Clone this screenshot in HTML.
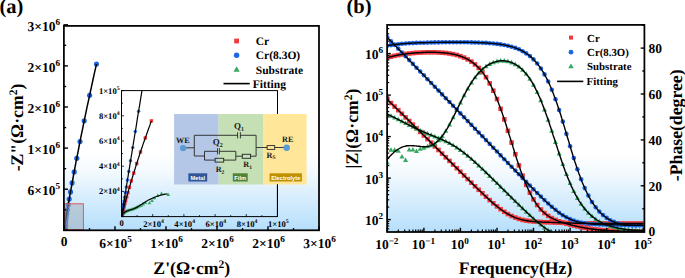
<!DOCTYPE html><html><head><meta charset="utf-8"><style>html,body{margin:0;padding:0;background:#fff;overflow:hidden}svg{display:block}</style></head><body><svg width="685" height="278" viewBox="0 0 685 278" text-rendering="geometricPrecision" font-family="Liberation Serif" font-weight="bold"><defs><linearGradient id="bg" x1="0" y1="0" x2="0" y2="1"><stop offset="0" stop-color="#ffffff"/><stop offset="0.62" stop-color="#ffffff"/><stop offset="0.72" stop-color="#f2f9fe"/><stop offset="0.8" stop-color="#e0f1fd"/><stop offset="0.96" stop-color="#bee3fc"/><stop offset="1" stop-color="#b5defc"/></linearGradient><clipPath id="ca"><rect x="64" y="25.5" width="255" height="204.5"/></clipPath><clipPath id="ci"><rect x="121.5" y="90.6" width="156" height="126"/></clipPath><clipPath id="cb"><rect x="387" y="24.8" width="257.5" height="207"/></clipPath></defs><text x="-0.6" y="13.4" font-size="20.5" text-anchor="start" >(a)</text><rect x="64" y="25.5" width="255" height="204.5" fill="url(#bg)"/><g clip-path="url(#ca)"><polygon points="66.5,225.7 63.7,230.9 69.4,230.9" fill="#35a862"/><polygon points="66.2,225.7 63.3,230.8 69,230.8" fill="#35a862"/><polygon points="66,225.8 63.1,230.9 68.8,230.9" fill="#35a862"/><polygon points="65.8,225.9 62.9,231 68.7,231" fill="#35a862"/><polygon points="65.7,226.1 62.8,231.2 68.5,231.2" fill="#35a862"/><polygon points="65.5,226.2 62.7,231.3 68.4,231.3" fill="#35a862"/><polygon points="65.3,226.2 62.4,231.3 68.2,231.3" fill="#35a862"/><polygon points="65.2,226.2 62.3,231.4 68,231.4" fill="#35a862"/><polygon points="65.1,226.3 62.2,231.5 67.9,231.5" fill="#35a862"/><polygon points="65,226.3 62.1,231.5 67.8,231.5" fill="#35a862"/><polygon points="64.9,226.4 62,231.5 67.7,231.5" fill="#35a862"/><polygon points="64.8,226.4 61.9,231.6 67.7,231.6" fill="#35a862"/><polygon points="64.7,226.5 61.9,231.6 67.6,231.6" fill="#35a862"/><polygon points="64.7,226.5 61.8,231.6 67.5,231.6" fill="#35a862"/><polygon points="64.6,226.5 61.7,231.7 67.5,231.7" fill="#35a862"/><polygon points="64.5,226.5 61.7,231.7 67.4,231.7" fill="#35a862"/><polygon points="64.5,226.5 61.6,231.7 67.3,231.7" fill="#35a862"/><polygon points="64.4,226.6 61.5,231.7 67.3,231.7" fill="#35a862"/><polygon points="64.3,226.6 61.5,231.7 67.2,231.7" fill="#35a862"/><polygon points="64.3,226.6 61.4,231.8 67.1,231.8" fill="#35a862"/><polygon points="64.2,226.6 61.4,231.8 67.1,231.8" fill="#35a862"/><polygon points="64.2,226.7 61.3,231.8 67,231.8" fill="#35a862"/><polygon points="64.1,226.7 61.3,231.9 67,231.9" fill="#35a862"/><polygon points="64.1,226.7 61.2,231.9 67,231.9" fill="#35a862"/><polygon points="64.1,226.8 61.2,231.9 66.9,231.9" fill="#35a862"/><polygon points="64.1,226.8 61.2,231.9 66.9,231.9" fill="#35a862"/><polygon points="64,226.8 61.2,232 66.9,232" fill="#35a862"/><polygon points="64,226.8 61.2,232 66.9,232" fill="#35a862"/><polygon points="64,226.8 61.2,232 66.9,232" fill="#35a862"/><polygon points="64,226.9 61.2,232 66.9,232" fill="#35a862"/><polygon points="64,226.9 61.2,232 66.9,232" fill="#35a862"/><polygon points="64,226.9 61.2,232 66.9,232" fill="#35a862"/><polygon points="64,226.9 61.2,232 66.9,232" fill="#35a862"/><polygon points="64,226.9 61.1,232 66.9,232" fill="#35a862"/><polygon points="64,226.9 61.1,232 66.9,232" fill="#35a862"/><polygon points="64,226.9 61.1,232 66.9,232" fill="#35a862"/><polygon points="64,226.9 61.1,232 66.9,232" fill="#35a862"/><polygon points="64,226.9 61.1,232 66.9,232" fill="#35a862"/><polygon points="64,226.9 61.1,232 66.9,232" fill="#35a862"/><polygon points="64,226.9 61.1,232.1 66.9,232.1" fill="#35a862"/><polygon points="64,226.9 61.1,232.1 66.9,232.1" fill="#35a862"/><polygon points="64,226.9 61.1,232.1 66.9,232.1" fill="#35a862"/><polygon points="64,226.9 61.1,232.1 66.9,232.1" fill="#35a862"/><polygon points="64,226.9 61.1,232.1 66.9,232.1" fill="#35a862"/><polygon points="64,226.9 61.1,232.1 66.9,232.1" fill="#35a862"/><polygon points="64,226.9 61.1,232.1 66.9,232.1" fill="#35a862"/><polygon points="64,226.9 61.1,232.1 66.9,232.1" fill="#35a862"/><polygon points="64,226.9 61.1,232.1 66.9,232.1" fill="#35a862"/><polygon points="64,226.9 61.1,232.1 66.9,232.1" fill="#35a862"/><polygon points="64,226.9 61.1,232.1 66.9,232.1" fill="#35a862"/><polygon points="64,226.9 61.1,232.1 66.9,232.1" fill="#35a862"/><polygon points="64,226.9 61.1,232.1 66.9,232.1" fill="#35a862"/><polygon points="64,226.9 61.1,232.1 66.9,232.1" fill="#35a862"/><polygon points="64,226.9 61.1,232.1 66.9,232.1" fill="#35a862"/><polygon points="64,226.9 61.1,232.1 66.9,232.1" fill="#35a862"/><polygon points="64,226.9 61.1,232.1 66.9,232.1" fill="#35a862"/><polygon points="64,226.9 61.1,232.1 66.9,232.1" fill="#35a862"/><polygon points="64,226.9 61.1,232.1 66.9,232.1" fill="#35a862"/><polygon points="64,226.9 61.1,232.1 66.9,232.1" fill="#35a862"/><polygon points="64,226.9 61.1,232.1 66.9,232.1" fill="#35a862"/><polygon points="64,226.9 61.1,232.1 66.9,232.1" fill="#35a862"/><polygon points="64,226.9 61.1,232.1 66.9,232.1" fill="#35a862"/><polygon points="64,226.9 61.1,232.1 66.9,232.1" fill="#35a862"/><polygon points="64,226.9 61.1,232.1 66.9,232.1" fill="#35a862"/><polygon points="64,226.9 61.1,232.1 66.9,232.1" fill="#35a862"/><polygon points="64,226.9 61.1,232.1 66.9,232.1" fill="#35a862"/><polygon points="64,226.9 61.1,232.1 66.9,232.1" fill="#35a862"/><polygon points="64,226.9 61.1,232.1 66.9,232.1" fill="#35a862"/><polygon points="64,226.9 61.1,232.1 66.9,232.1" fill="#35a862"/><polygon points="64,226.9 61.1,232.1 66.9,232.1" fill="#35a862"/><polygon points="64,226.9 61.1,232.1 66.9,232.1" fill="#35a862"/><rect x="63" y="222.2" width="5.2" height="5.2" fill="#ef3b3f"/><rect x="62.7" y="223.1" width="5.2" height="5.2" fill="#ef3b3f"/><rect x="62.4" y="223.9" width="5.2" height="5.2" fill="#ef3b3f"/><rect x="62.2" y="224.5" width="5.2" height="5.2" fill="#ef3b3f"/><rect x="62.1" y="225" width="5.2" height="5.2" fill="#ef3b3f"/><rect x="61.9" y="225.5" width="5.2" height="5.2" fill="#ef3b3f"/><rect x="61.8" y="225.8" width="5.2" height="5.2" fill="#ef3b3f"/><rect x="61.7" y="226.1" width="5.2" height="5.2" fill="#ef3b3f"/><rect x="61.7" y="226.3" width="5.2" height="5.2" fill="#ef3b3f"/><rect x="61.6" y="226.5" width="5.2" height="5.2" fill="#ef3b3f"/><rect x="61.6" y="226.7" width="5.2" height="5.2" fill="#ef3b3f"/><rect x="61.6" y="226.8" width="5.2" height="5.2" fill="#ef3b3f"/><rect x="61.5" y="226.9" width="5.2" height="5.2" fill="#ef3b3f"/><rect x="61.5" y="227" width="5.2" height="5.2" fill="#ef3b3f"/><rect x="61.5" y="227.1" width="5.2" height="5.2" fill="#ef3b3f"/><rect x="61.5" y="227.1" width="5.2" height="5.2" fill="#ef3b3f"/><rect x="61.5" y="227.2" width="5.2" height="5.2" fill="#ef3b3f"/><rect x="61.4" y="227.2" width="5.2" height="5.2" fill="#ef3b3f"/><rect x="61.4" y="227.3" width="5.2" height="5.2" fill="#ef3b3f"/><rect x="61.4" y="227.3" width="5.2" height="5.2" fill="#ef3b3f"/><rect x="61.4" y="227.3" width="5.2" height="5.2" fill="#ef3b3f"/><rect x="61.4" y="227.3" width="5.2" height="5.2" fill="#ef3b3f"/><rect x="61.4" y="227.3" width="5.2" height="5.2" fill="#ef3b3f"/><rect x="61.4" y="227.3" width="5.2" height="5.2" fill="#ef3b3f"/><rect x="61.4" y="227.4" width="5.2" height="5.2" fill="#ef3b3f"/><rect x="61.4" y="227.4" width="5.2" height="5.2" fill="#ef3b3f"/><rect x="61.4" y="227.4" width="5.2" height="5.2" fill="#ef3b3f"/><rect x="61.4" y="227.4" width="5.2" height="5.2" fill="#ef3b3f"/><rect x="61.4" y="227.4" width="5.2" height="5.2" fill="#ef3b3f"/><rect x="61.4" y="227.4" width="5.2" height="5.2" fill="#ef3b3f"/><rect x="61.4" y="227.4" width="5.2" height="5.2" fill="#ef3b3f"/><rect x="61.4" y="227.4" width="5.2" height="5.2" fill="#ef3b3f"/><rect x="61.4" y="227.4" width="5.2" height="5.2" fill="#ef3b3f"/><rect x="61.4" y="227.4" width="5.2" height="5.2" fill="#ef3b3f"/><rect x="61.4" y="227.4" width="5.2" height="5.2" fill="#ef3b3f"/><rect x="61.4" y="227.4" width="5.2" height="5.2" fill="#ef3b3f"/><rect x="61.4" y="227.4" width="5.2" height="5.2" fill="#ef3b3f"/><rect x="61.4" y="227.4" width="5.2" height="5.2" fill="#ef3b3f"/><rect x="61.4" y="227.4" width="5.2" height="5.2" fill="#ef3b3f"/><rect x="61.4" y="227.4" width="5.2" height="5.2" fill="#ef3b3f"/><rect x="61.4" y="227.4" width="5.2" height="5.2" fill="#ef3b3f"/><rect x="61.4" y="227.4" width="5.2" height="5.2" fill="#ef3b3f"/><rect x="61.4" y="227.4" width="5.2" height="5.2" fill="#ef3b3f"/><rect x="61.4" y="227.4" width="5.2" height="5.2" fill="#ef3b3f"/><rect x="61.4" y="227.4" width="5.2" height="5.2" fill="#ef3b3f"/><rect x="61.4" y="227.4" width="5.2" height="5.2" fill="#ef3b3f"/><rect x="61.4" y="227.4" width="5.2" height="5.2" fill="#ef3b3f"/><rect x="61.4" y="227.4" width="5.2" height="5.2" fill="#ef3b3f"/><rect x="61.4" y="227.4" width="5.2" height="5.2" fill="#ef3b3f"/><rect x="61.4" y="227.4" width="5.2" height="5.2" fill="#ef3b3f"/><rect x="61.4" y="227.4" width="5.2" height="5.2" fill="#ef3b3f"/><rect x="61.4" y="227.4" width="5.2" height="5.2" fill="#ef3b3f"/><rect x="61.4" y="227.4" width="5.2" height="5.2" fill="#ef3b3f"/><rect x="61.4" y="227.4" width="5.2" height="5.2" fill="#ef3b3f"/><rect x="61.4" y="227.4" width="5.2" height="5.2" fill="#ef3b3f"/><rect x="61.4" y="227.4" width="5.2" height="5.2" fill="#ef3b3f"/><rect x="61.4" y="227.4" width="5.2" height="5.2" fill="#ef3b3f"/><rect x="61.4" y="227.4" width="5.2" height="5.2" fill="#ef3b3f"/><rect x="61.4" y="227.4" width="5.2" height="5.2" fill="#ef3b3f"/><rect x="61.4" y="227.4" width="5.2" height="5.2" fill="#ef3b3f"/><rect x="61.4" y="227.4" width="5.2" height="5.2" fill="#ef3b3f"/><rect x="61.4" y="227.4" width="5.2" height="5.2" fill="#ef3b3f"/><rect x="61.4" y="227.4" width="5.2" height="5.2" fill="#ef3b3f"/><rect x="61.4" y="227.4" width="5.2" height="5.2" fill="#ef3b3f"/><rect x="61.4" y="227.4" width="5.2" height="5.2" fill="#ef3b3f"/><rect x="61.4" y="227.4" width="5.2" height="5.2" fill="#ef3b3f"/><rect x="61.4" y="227.4" width="5.2" height="5.2" fill="#ef3b3f"/><rect x="61.4" y="227.4" width="5.2" height="5.2" fill="#ef3b3f"/><rect x="61.4" y="227.4" width="5.2" height="5.2" fill="#ef3b3f"/><rect x="61.4" y="227.4" width="5.2" height="5.2" fill="#ef3b3f"/><rect x="61.4" y="227.4" width="5.2" height="5.2" fill="#ef3b3f"/><circle cx="96.5" cy="64" r="2.6" fill="#1f66e5"/><circle cx="89.6" cy="95.3" r="2.6" fill="#1f66e5"/><circle cx="84.2" cy="120.8" r="2.6" fill="#1f66e5"/><circle cx="80" cy="141.5" r="2.6" fill="#1f66e5"/><circle cx="76.8" cy="158.3" r="2.6" fill="#1f66e5"/><circle cx="74.2" cy="171.9" r="2.6" fill="#1f66e5"/><circle cx="72.1" cy="182.9" r="2.6" fill="#1f66e5"/><circle cx="70.5" cy="191.9" r="2.6" fill="#1f66e5"/><circle cx="69.2" cy="199.1" r="2.6" fill="#1f66e5"/><circle cx="68.2" cy="205" r="2.6" fill="#1f66e5"/><circle cx="67.4" cy="209.7" r="2.6" fill="#1f66e5"/><circle cx="66.7" cy="213.6" r="2.6" fill="#1f66e5"/><circle cx="66.2" cy="216.7" r="2.6" fill="#1f66e5"/><circle cx="65.8" cy="219.2" r="2.6" fill="#1f66e5"/><circle cx="65.4" cy="221.3" r="2.6" fill="#1f66e5"/><circle cx="65.2" cy="222.9" r="2.6" fill="#1f66e5"/><circle cx="64.9" cy="224.3" r="2.6" fill="#1f66e5"/><circle cx="64.8" cy="225.4" r="2.6" fill="#1f66e5"/><circle cx="64.6" cy="226.3" r="2.6" fill="#1f66e5"/><circle cx="64.5" cy="227" r="2.6" fill="#1f66e5"/><circle cx="64.4" cy="227.5" r="2.6" fill="#1f66e5"/><circle cx="64.3" cy="228" r="2.6" fill="#1f66e5"/><circle cx="64.3" cy="228.4" r="2.6" fill="#1f66e5"/><circle cx="64.2" cy="228.7" r="2.6" fill="#1f66e5"/><circle cx="64.2" cy="228.9" r="2.6" fill="#1f66e5"/><circle cx="64.1" cy="229.1" r="2.6" fill="#1f66e5"/><circle cx="64.1" cy="229.3" r="2.6" fill="#1f66e5"/><circle cx="64.1" cy="229.4" r="2.6" fill="#1f66e5"/><circle cx="64.1" cy="229.5" r="2.6" fill="#1f66e5"/><circle cx="64.1" cy="229.6" r="2.6" fill="#1f66e5"/><circle cx="64.1" cy="229.7" r="2.6" fill="#1f66e5"/><circle cx="64" cy="229.8" r="2.6" fill="#1f66e5"/><circle cx="64" cy="229.8" r="2.6" fill="#1f66e5"/><circle cx="64" cy="229.8" r="2.6" fill="#1f66e5"/><circle cx="64" cy="229.9" r="2.6" fill="#1f66e5"/><circle cx="64" cy="229.9" r="2.6" fill="#1f66e5"/><circle cx="64" cy="229.9" r="2.6" fill="#1f66e5"/><circle cx="64" cy="229.9" r="2.6" fill="#1f66e5"/><circle cx="64" cy="229.9" r="2.6" fill="#1f66e5"/><circle cx="64" cy="230" r="2.6" fill="#1f66e5"/><circle cx="64" cy="230" r="2.6" fill="#1f66e5"/><circle cx="64" cy="230" r="2.6" fill="#1f66e5"/><circle cx="64" cy="230" r="2.6" fill="#1f66e5"/><circle cx="64" cy="230" r="2.6" fill="#1f66e5"/><circle cx="64" cy="230" r="2.6" fill="#1f66e5"/><circle cx="64" cy="230" r="2.6" fill="#1f66e5"/><circle cx="64" cy="230" r="2.6" fill="#1f66e5"/><circle cx="64" cy="230" r="2.6" fill="#1f66e5"/><circle cx="64" cy="230" r="2.6" fill="#1f66e5"/><circle cx="64" cy="230" r="2.6" fill="#1f66e5"/><circle cx="64" cy="230" r="2.6" fill="#1f66e5"/><circle cx="64" cy="230" r="2.6" fill="#1f66e5"/><circle cx="64" cy="230" r="2.6" fill="#1f66e5"/><circle cx="64" cy="230" r="2.6" fill="#1f66e5"/><circle cx="64" cy="230" r="2.6" fill="#1f66e5"/><circle cx="64" cy="230" r="2.6" fill="#1f66e5"/><circle cx="64" cy="230" r="2.6" fill="#1f66e5"/><circle cx="64" cy="230" r="2.6" fill="#1f66e5"/><circle cx="64" cy="230" r="2.6" fill="#1f66e5"/><circle cx="64" cy="230" r="2.6" fill="#1f66e5"/><circle cx="64" cy="230" r="2.6" fill="#1f66e5"/><circle cx="64" cy="230" r="2.6" fill="#1f66e5"/><circle cx="64" cy="230" r="2.6" fill="#1f66e5"/><circle cx="64" cy="230" r="2.6" fill="#1f66e5"/><circle cx="64" cy="230" r="2.6" fill="#1f66e5"/><circle cx="64" cy="230" r="2.6" fill="#1f66e5"/><circle cx="64" cy="230" r="2.6" fill="#1f66e5"/><circle cx="64" cy="230" r="2.6" fill="#1f66e5"/><circle cx="64" cy="230" r="2.6" fill="#1f66e5"/><circle cx="64" cy="230" r="2.6" fill="#1f66e5"/><circle cx="64" cy="230" r="2.6" fill="#1f66e5"/><polyline points="65.6,224.8 65.5,225 65.5,225.3 65.4,225.5 65.3,225.7 65.2,225.9 65.2,226.1 65.1,226.2 65.1,226.4 65,226.6 65,226.7 64.9,226.9 64.9,227 64.8,227.1 64.8,227.3 64.7,227.4 64.7,227.5 64.7,227.6 64.6,227.7 64.6,227.8 64.6,227.9 64.5,228 64.5,228.1 64.5,228.2 64.5,228.3 64.4,228.4 64.4,228.4 64.4,228.5 64.4,228.6 64.4,228.6 64.3,228.7 64.3,228.8 64.3,228.8 64.3,228.9 64.3,228.9 64.3,229 64.3,229 64.2,229.1 64.2,229.1 64.2,229.2 64.2,229.2 64.2,229.2 64.2,229.3 64.2,229.3 64.2,229.3 64.2,229.4 64.2,229.4 64.2,229.4 64.1,229.4 64.1,229.5 64.1,229.5 64.1,229.5 64.1,229.5 64.1,229.6 64.1,229.6 64.1,229.6 64.1,229.6 64.1,229.6 64.1,229.7 64.1,229.7 64.1,229.7 64.1,229.7 64.1,229.7 64.1,229.7 64.1,229.7 64.1,229.8 64.1,229.8 64.1,229.8 64.1,229.8 64.1,229.8 64.1,229.8 64.1,229.8 64,229.8 64,229.8 64,229.8 64,229.8 64,229.9 64,229.9 64,229.9 64,229.9 64,229.9 64,229.9 64,229.9 64,229.9 64,229.9 64,229.9 64,229.9 64,229.9 64,229.9 64,229.9 64,229.9 64,229.9 64,229.9 64,229.9 64,229.9 64,229.9 64,229.9 64,229.9 64,229.9 64,230 64,230 64,230 64,230 64,230 64,230 64,230 64,230 64,230 64,230 64,230 64,230 64,230 64,230 64,230 64,230 64,230 64,230 64,230 64,230 64,230 64,230 64,230 64,230 64,230 64,230 64,230 64,230 64,230 64,230 64,230 64,230 64,230 64,230 64,230 64,230 64,230 64,230 64,230 64,230 64,230 64,230 64,230 64,230 64,230 64,230 64,230 64,230 64,230 64,230 64,230 64,230 64,230 64,230 64,230 64,230 64,230 64,230 64,230 64,230 64,230 64,230 64,230 64,230 64,230 64,230 64,230 64,230 64,230 64,230 64,230 64,230 64,230 64,230 64,230 64,230 64,230 64,230 64,230 64,230 64,230 64,230 64,230 64,230 64,230 64,230 64,230 64,230 64,230 64,230 64,230 64,230 64,230 64,230 64,230 64,230 64,230 64,230 64,230 64,230 64,230 64,230 64,230 64,230 64,230 64,230 64,230 64,230 64,230 64,230 64,230 64,230 64,230 64,230 64,230 64,230 64,230 64,230 64,230 64,230 64,230 64,230 64,230 64,230 64,230 64,230 64,230 64,230 64,230 64,230 64,230 64,230 64,230 64,230 64,230 64,230 64,230 64,230 64,230 64,230 64,230 64,230 64,230 64,230 64,230 64,230 64,230 64,230 64,230 64,230 64,230 64,230 64,230 64,230 64,230 64,230 64,230 64,230 64,230 64,230 64,230 64,230 64,230 64,230 64,230 64,230 64,230 64,230 64,230 64,230 64,230 64,230 64,230 64,230 64,230 64,230 64,230 64,230 64,230 64,230 64,230 64,230 64,230 64,230 64,230 64,230 64,230 64,230 64,230 64,230 64,230 64,230 64,230 64,230 64,230 64,230 64,230 64,230 64,230 64,230 64,230" fill="none" stroke="#000" stroke-width="1.5"/><polyline points="66.5,228.8 66.4,228.8 66.4,228.8 66.3,228.8 66.3,228.8 66.2,228.8 66.1,228.8 66.1,228.9 66,228.9 66,228.9 65.9,228.9 65.9,228.9 65.8,228.9 65.8,229 65.7,229 65.7,229 65.6,229 65.6,229 65.5,229.1 65.5,229.1 65.5,229.1 65.4,229.1 65.4,229.1 65.4,229.2 65.3,229.2 65.3,229.2 65.3,229.2 65.2,229.2 65.2,229.3 65.2,229.3 65.1,229.3 65.1,229.3 65.1,229.3 65.1,229.3 65.1,229.4 65,229.4 65,229.4 65,229.4 65,229.4 64.9,229.4 64.9,229.4 64.9,229.5 64.9,229.5 64.9,229.5 64.9,229.5 64.8,229.5 64.8,229.5 64.8,229.5 64.8,229.5 64.8,229.5 64.8,229.5 64.7,229.5 64.7,229.6 64.7,229.6 64.7,229.6 64.7,229.6 64.7,229.6 64.6,229.6 64.6,229.6 64.6,229.6 64.6,229.6 64.6,229.6 64.6,229.6 64.6,229.6 64.5,229.6 64.5,229.6 64.5,229.6 64.5,229.6 64.5,229.6 64.5,229.6 64.4,229.6 64.4,229.6 64.4,229.7 64.4,229.7 64.4,229.7 64.4,229.7 64.4,229.7 64.3,229.7 64.3,229.7 64.3,229.7 64.3,229.7 64.3,229.7 64.3,229.7 64.3,229.7 64.2,229.7 64.2,229.7 64.2,229.7 64.2,229.7 64.2,229.7 64.2,229.8 64.2,229.8 64.2,229.8 64.2,229.8 64.1,229.8 64.1,229.8 64.1,229.8 64.1,229.8 64.1,229.8 64.1,229.8 64.1,229.8 64.1,229.8 64.1,229.8 64.1,229.8 64.1,229.9 64.1,229.9 64.1,229.9 64.1,229.9 64.1,229.9 64.1,229.9 64.1,229.9 64,229.9 64,229.9 64,229.9 64,229.9 64,229.9 64,229.9 64,229.9 64,229.9 64,229.9 64,229.9 64,229.9 64,229.9 64,229.9 64,229.9 64,229.9 64,229.9 64,229.9 64,229.9 64,230 64,230 64,230 64,230 64,230 64,230 64,230 64,230 64,230 64,230 64,230 64,230 64,230 64,230 64,230 64,230 64,230 64,230 64,230 64,230 64,230 64,230 64,230 64,230 64,230 64,230 64,230 64,230 64,230 64,230 64,230 64,230 64,230 64,230 64,230 64,230 64,230 64,230 64,230 64,230 64,230 64,230 64,230 64,230 64,230 64,230 64,230 64,230 64,230 64,230 64,230 64,230 64,230 64,230 64,230 64,230 64,230 64,230 64,230 64,230 64,230 64,230 64,230 64,230 64,230 64,230 64,230 64,230 64,230 64,230 64,230 64,230 64,230 64,230 64,230 64,230 64,230 64,230 64,230 64,230 64,230 64,230 64,230 64,230 64,230 64,230 64,230 64,230 64,230 64,230 64,230 64,230 64,230 64,230 64,230 64,230 64,230 64,230 64,230 64,230 64,230 64,230 64,230 64,230 64,230 64,230 64,230 64,230 64,230 64,230 64,230 64,230 64,230 64,230 64,230 64,230 64,230 64,230 64,230 64,230 64,230 64,230 64,230 64,230 64,230 64,230 64,230 64,230 64,230 64,230 64,230 64,230 64,230 64,230 64,230 64,230 64,230 64,230 64,230 64,230 64,230 64,230 64,230 64,230 64,230 64,230 64,230 64,230 64,230 64,230 64,230 64,230 64,230 64,230 64,230 64,230 64,230 64,230 64,230 64,230 64,230 64,230 64,230 64,230 64,230 64,230 64,230 64,230 64,230 64,230 64,230 64,230" fill="none" stroke="#000" stroke-width="1.5"/><polyline points="96.5,64 94.7,71.9 93,79.5 91.5,86.7 90,93.5 88.6,100.1 87.2,106.3 86,112.2 84.8,117.9 83.7,123.2 82.7,128.4 81.7,133.2 80.7,137.9 79.9,142.3 79,146.5 78.3,150.5 77.5,154.3 76.8,158 76.1,161.4 75.5,164.7 74.9,167.9 74.4,170.8 73.8,173.7 73.3,176.4 72.9,179 72.4,181.4 72,183.8 71.6,186 71.2,188.1 70.8,190.1 70.5,192 70.2,193.9 69.8,195.6 69.6,197.3 69.3,198.8 69,200.3 68.8,201.8 68.5,203.1 68.3,204.4 68.1,205.7 67.9,206.8 67.7,207.9 67.5,209 67.3,210 67.2,211 67,211.9 66.9,212.8 66.7,213.6 66.6,214.4 66.5,215.1 66.3,215.9 66.2,216.5 66.1,217.2 66,217.8 65.9,218.4 65.8,219 65.7,219.5 65.6,220 65.6,220.5 65.5,220.9 65.4,221.4 65.3,221.8 65.3,222.2 65.2,222.6 65.2,222.9 65.1,223.3 65,223.6 65,223.9 64.9,224.2 64.9,224.5 64.9,224.7 64.8,225 64.8,225.2 64.7,225.5 64.7,225.7 64.7,225.9 64.6,226.1 64.6,226.3 64.6,226.5 64.5,226.6 64.5,226.8 64.5,226.9 64.5,227.1 64.5,227.2 64.4,227.4 64.4,227.5 64.4,227.6 64.4,227.7 64.4,227.8 64.3,227.9 64.3,228 64.3,228.1 64.3,228.2 64.3,228.3 64.3,228.4 64.2,228.5 64.2,228.5 64.2,228.6 64.2,228.7 64.2,228.7 64.2,228.8 64.2,228.9 64.2,228.9 64.2,229 64.2,229 64.2,229.1 64.1,229.1 64.1,229.2 64.1,229.2 64.1,229.2 64.1,229.3 64.1,229.3 64.1,229.3 64.1,229.4 64.1,229.4 64.1,229.4 64.1,229.5 64.1,229.5 64.1,229.5 64.1,229.5 64.1,229.6 64.1,229.6 64.1,229.6 64.1,229.6 64.1,229.6 64.1,229.7 64.1,229.7 64.1,229.7 64.1,229.7 64.1,229.7 64,229.7 64,229.7 64,229.8 64,229.8 64,229.8 64,229.8 64,229.8 64,229.8 64,229.8 64,229.8 64,229.8 64,229.8 64,229.9 64,229.9 64,229.9 64,229.9 64,229.9 64,229.9 64,229.9 64,229.9 64,229.9 64,229.9 64,229.9 64,229.9 64,229.9 64,229.9 64,229.9 64,229.9 64,229.9 64,229.9 64,229.9 64,229.9 64,229.9 64,229.9 64,230 64,230 64,230 64,230 64,230 64,230 64,230 64,230 64,230 64,230 64,230 64,230 64,230 64,230 64,230 64,230 64,230 64,230 64,230 64,230 64,230 64,230 64,230 64,230 64,230 64,230 64,230 64,230 64,230 64,230 64,230 64,230 64,230 64,230 64,230 64,230 64,230 64,230 64,230 64,230 64,230 64,230 64,230 64,230 64,230 64,230 64,230 64,230 64,230 64,230 64,230 64,230 64,230 64,230 64,230 64,230 64,230 64,230 64,230 64,230 64,230 64,230 64,230 64,230 64,230 64,230 64,230 64,230 64,230 64,230 64,230 64,230 64,230 64,230 64,230 64,230 64,230 64,230 64,230 64,230 64,230 64,230 64,230 64,230 64,230 64,230 64,230 64,230 64,230 64,230 64,230 64,230 64,230 64,230 64,230 64,230 64,230 64,230 64,230 64,230 64,230 64,230 64,230 64,230 64,230 64,230 64,230 64,230 64,230 64,230 64,230 64,230 64,230 64,230 64,230 64,230 64,230 64,230 64,230 64,230 64,230 64,230 64,230 64,230 64,230 64,230 64,230 64,230 64,230 64,230 64,230 64,230 64,230 64,230 64,230 64,230" fill="none" stroke="#000" stroke-width="1.5"/><rect x="64.7" y="203.8" width="18.7" height="25.8" fill="#a4abb3" fill-opacity="0.5" stroke="#e0585e" stroke-width="1"/></g><g clip-path="url(#ci)"><polygon points="168.3,192.7 166.4,196.1 170.1,196.1" fill="#35a862"/><polygon points="161.5,191.4 159.7,194.8 163.4,194.8" fill="#35a862"/><polygon points="157.8,193.6 155.9,197 159.7,197" fill="#35a862"/><polygon points="154.4,195.8 152.6,199.2 156.3,199.2" fill="#35a862"/><polygon points="152,198.7 150.2,202.1 153.9,202.1" fill="#35a862"/><polygon points="149.5,200.9 147.6,204.3 151.3,204.3" fill="#35a862"/><polygon points="145.4,200.7 143.5,204 147.3,204" fill="#35a862"/><polygon points="143.1,202 141.2,205.4 145,205.4" fill="#35a862"/><polygon points="141.2,203.4 139.4,206.7 143.1,206.7" fill="#35a862"/><polygon points="139.3,204.1 137.4,207.5 141.1,207.5" fill="#35a862"/><polygon points="137.7,204.9 135.8,208.3 139.5,208.3" fill="#35a862"/><polygon points="136.2,205.6 134.3,208.9 138.1,208.9" fill="#35a862"/><polygon points="135,206.2 133.1,209.6 136.8,209.6" fill="#35a862"/><polygon points="133.8,206.7 131.9,210.1 135.6,210.1" fill="#35a862"/><polygon points="132.6,207.2 130.7,210.5 134.4,210.5" fill="#35a862"/><polygon points="131.4,207.5 129.5,210.9 133.2,210.9" fill="#35a862"/><polygon points="130.1,207.9 128.3,211.2 132,211.2" fill="#35a862"/><polygon points="128.9,208.2 127,211.6 130.8,211.6" fill="#35a862"/><polygon points="127.7,208.6 125.9,212 129.6,212" fill="#35a862"/><polygon points="126.6,209.1 124.7,212.5 128.5,212.5" fill="#35a862"/><polygon points="125.6,209.6 123.7,213 127.5,213" fill="#35a862"/><polygon points="124.7,210.2 122.8,213.6 126.6,213.6" fill="#35a862"/><polygon points="124,210.7 122.1,214.1 125.9,214.1" fill="#35a862"/><polygon points="123.4,211.3 121.5,214.6 125.3,214.6" fill="#35a862"/><polygon points="123,211.8 121.1,215.1 124.8,215.1" fill="#35a862"/><polygon points="122.6,212.2 120.7,215.6 124.5,215.6" fill="#35a862"/><polygon points="122.4,212.6 120.5,216 124.2,216" fill="#35a862"/><polygon points="122.2,212.9 120.3,216.3 124,216.3" fill="#35a862"/><polygon points="122,213.2 120.1,216.6 123.9,216.6" fill="#35a862"/><polygon points="121.9,213.5 120,216.8 123.8,216.8" fill="#35a862"/><polygon points="121.8,213.7 119.9,217 123.7,217" fill="#35a862"/><polygon points="121.8,213.8 119.9,217.2 123.6,217.2" fill="#35a862"/><polygon points="121.7,214 119.8,217.3 123.6,217.3" fill="#35a862"/><polygon points="121.7,214.1 119.8,217.4 123.5,217.4" fill="#35a862"/><polygon points="121.6,214.2 119.8,217.5 123.5,217.5" fill="#35a862"/><polygon points="121.6,214.2 119.8,217.6 123.5,217.6" fill="#35a862"/><polygon points="121.6,214.3 119.7,217.7 123.5,217.7" fill="#35a862"/><polygon points="121.6,214.4 119.7,217.7 123.5,217.7" fill="#35a862"/><polygon points="121.6,214.4 119.7,217.8 123.5,217.8" fill="#35a862"/><polygon points="121.6,214.4 119.7,217.8 123.4,217.8" fill="#35a862"/><polygon points="121.6,214.5 119.7,217.8 123.4,217.8" fill="#35a862"/><polygon points="121.6,214.5 119.7,217.8 123.4,217.8" fill="#35a862"/><polygon points="121.6,214.5 119.7,217.9 123.4,217.9" fill="#35a862"/><polygon points="121.6,214.5 119.7,217.9 123.4,217.9" fill="#35a862"/><polygon points="121.6,214.5 119.7,217.9 123.4,217.9" fill="#35a862"/><polygon points="121.6,214.5 119.7,217.9 123.4,217.9" fill="#35a862"/><polygon points="121.6,214.5 119.7,217.9 123.4,217.9" fill="#35a862"/><polygon points="121.6,214.6 119.7,217.9 123.4,217.9" fill="#35a862"/><polygon points="121.6,214.6 119.7,217.9 123.4,217.9" fill="#35a862"/><polygon points="121.6,214.6 119.7,217.9 123.4,217.9" fill="#35a862"/><polygon points="121.5,214.6 119.7,217.9 123.4,217.9" fill="#35a862"/><polygon points="121.5,214.6 119.7,217.9 123.4,217.9" fill="#35a862"/><polygon points="121.5,214.6 119.7,217.9 123.4,217.9" fill="#35a862"/><polygon points="121.5,214.6 119.7,217.9 123.4,217.9" fill="#35a862"/><polygon points="121.5,214.6 119.7,217.9 123.4,217.9" fill="#35a862"/><polygon points="121.5,214.6 119.7,217.9 123.4,217.9" fill="#35a862"/><polygon points="121.5,214.6 119.7,217.9 123.4,217.9" fill="#35a862"/><polygon points="121.5,214.6 119.7,217.9 123.4,217.9" fill="#35a862"/><polygon points="121.5,214.6 119.7,217.9 123.4,217.9" fill="#35a862"/><polygon points="121.5,214.6 119.7,217.9 123.4,217.9" fill="#35a862"/><polygon points="121.5,214.6 119.7,217.9 123.4,217.9" fill="#35a862"/><polygon points="121.5,214.6 119.7,217.9 123.4,217.9" fill="#35a862"/><polygon points="121.5,214.6 119.7,217.9 123.4,217.9" fill="#35a862"/><polygon points="121.5,214.6 119.7,217.9 123.4,217.9" fill="#35a862"/><polygon points="121.5,214.6 119.7,217.9 123.4,217.9" fill="#35a862"/><polygon points="121.5,214.6 119.7,217.9 123.4,217.9" fill="#35a862"/><polygon points="121.5,214.6 119.7,217.9 123.4,217.9" fill="#35a862"/><polygon points="121.5,214.6 119.7,217.9 123.4,217.9" fill="#35a862"/><polygon points="121.5,214.6 119.7,217.9 123.4,217.9" fill="#35a862"/><polygon points="121.5,214.6 119.7,217.9 123.4,217.9" fill="#35a862"/><polygon points="121.5,214.6 119.7,217.9 123.4,217.9" fill="#35a862"/><rect x="149.7" y="119.2" width="3.4" height="3.4" fill="#ef3b3f"/><rect x="143.6" y="136.2" width="3.4" height="3.4" fill="#ef3b3f"/><rect x="138.8" y="150.3" width="3.4" height="3.4" fill="#ef3b3f"/><rect x="135" y="161.9" width="3.4" height="3.4" fill="#ef3b3f"/><rect x="132" y="171.4" width="3.4" height="3.4" fill="#ef3b3f"/><rect x="129.6" y="179.2" width="3.4" height="3.4" fill="#ef3b3f"/><rect x="127.7" y="185.7" width="3.4" height="3.4" fill="#ef3b3f"/><rect x="126.2" y="191" width="3.4" height="3.4" fill="#ef3b3f"/><rect x="125" y="195.3" width="3.4" height="3.4" fill="#ef3b3f"/><rect x="124" y="198.9" width="3.4" height="3.4" fill="#ef3b3f"/><rect x="123.2" y="201.8" width="3.4" height="3.4" fill="#ef3b3f"/><rect x="122.6" y="204.2" width="3.4" height="3.4" fill="#ef3b3f"/><rect x="122.1" y="206.1" width="3.4" height="3.4" fill="#ef3b3f"/><rect x="121.7" y="207.7" width="3.4" height="3.4" fill="#ef3b3f"/><rect x="121.3" y="209" width="3.4" height="3.4" fill="#ef3b3f"/><rect x="121.1" y="210.1" width="3.4" height="3.4" fill="#ef3b3f"/><rect x="120.8" y="211" width="3.4" height="3.4" fill="#ef3b3f"/><rect x="120.7" y="211.7" width="3.4" height="3.4" fill="#ef3b3f"/><rect x="120.5" y="212.3" width="3.4" height="3.4" fill="#ef3b3f"/><rect x="120.4" y="212.8" width="3.4" height="3.4" fill="#ef3b3f"/><rect x="120.3" y="213.2" width="3.4" height="3.4" fill="#ef3b3f"/><rect x="120.2" y="213.5" width="3.4" height="3.4" fill="#ef3b3f"/><rect x="120.2" y="213.7" width="3.4" height="3.4" fill="#ef3b3f"/><rect x="120.1" y="214" width="3.4" height="3.4" fill="#ef3b3f"/><rect x="120.1" y="214.1" width="3.4" height="3.4" fill="#ef3b3f"/><rect x="120.1" y="214.3" width="3.4" height="3.4" fill="#ef3b3f"/><rect x="120" y="214.4" width="3.4" height="3.4" fill="#ef3b3f"/><rect x="120" y="214.5" width="3.4" height="3.4" fill="#ef3b3f"/><rect x="120" y="214.6" width="3.4" height="3.4" fill="#ef3b3f"/><rect x="120" y="214.6" width="3.4" height="3.4" fill="#ef3b3f"/><rect x="120" y="214.7" width="3.4" height="3.4" fill="#ef3b3f"/><rect x="120" y="214.7" width="3.4" height="3.4" fill="#ef3b3f"/><rect x="120" y="214.8" width="3.4" height="3.4" fill="#ef3b3f"/><rect x="120" y="214.8" width="3.4" height="3.4" fill="#ef3b3f"/><rect x="119.9" y="214.8" width="3.4" height="3.4" fill="#ef3b3f"/><rect x="119.9" y="214.8" width="3.4" height="3.4" fill="#ef3b3f"/><rect x="119.9" y="214.8" width="3.4" height="3.4" fill="#ef3b3f"/><rect x="119.9" y="214.8" width="3.4" height="3.4" fill="#ef3b3f"/><rect x="119.9" y="214.9" width="3.4" height="3.4" fill="#ef3b3f"/><rect x="119.9" y="214.9" width="3.4" height="3.4" fill="#ef3b3f"/><rect x="119.9" y="214.9" width="3.4" height="3.4" fill="#ef3b3f"/><rect x="119.9" y="214.9" width="3.4" height="3.4" fill="#ef3b3f"/><rect x="119.9" y="214.9" width="3.4" height="3.4" fill="#ef3b3f"/><rect x="119.9" y="214.9" width="3.4" height="3.4" fill="#ef3b3f"/><rect x="119.9" y="214.9" width="3.4" height="3.4" fill="#ef3b3f"/><rect x="119.9" y="214.9" width="3.4" height="3.4" fill="#ef3b3f"/><rect x="119.9" y="214.9" width="3.4" height="3.4" fill="#ef3b3f"/><rect x="119.9" y="214.9" width="3.4" height="3.4" fill="#ef3b3f"/><rect x="119.9" y="214.9" width="3.4" height="3.4" fill="#ef3b3f"/><rect x="119.9" y="214.9" width="3.4" height="3.4" fill="#ef3b3f"/><rect x="119.9" y="214.9" width="3.4" height="3.4" fill="#ef3b3f"/><rect x="119.9" y="214.9" width="3.4" height="3.4" fill="#ef3b3f"/><rect x="119.9" y="214.9" width="3.4" height="3.4" fill="#ef3b3f"/><rect x="119.9" y="214.9" width="3.4" height="3.4" fill="#ef3b3f"/><rect x="119.9" y="214.9" width="3.4" height="3.4" fill="#ef3b3f"/><rect x="119.9" y="214.9" width="3.4" height="3.4" fill="#ef3b3f"/><rect x="119.9" y="214.9" width="3.4" height="3.4" fill="#ef3b3f"/><rect x="119.9" y="214.9" width="3.4" height="3.4" fill="#ef3b3f"/><rect x="119.9" y="214.9" width="3.4" height="3.4" fill="#ef3b3f"/><rect x="119.9" y="214.9" width="3.4" height="3.4" fill="#ef3b3f"/><rect x="119.9" y="214.9" width="3.4" height="3.4" fill="#ef3b3f"/><rect x="119.9" y="214.9" width="3.4" height="3.4" fill="#ef3b3f"/><rect x="119.9" y="214.9" width="3.4" height="3.4" fill="#ef3b3f"/><rect x="119.9" y="214.9" width="3.4" height="3.4" fill="#ef3b3f"/><rect x="119.9" y="214.9" width="3.4" height="3.4" fill="#ef3b3f"/><rect x="119.9" y="214.9" width="3.4" height="3.4" fill="#ef3b3f"/><rect x="119.9" y="214.9" width="3.4" height="3.4" fill="#ef3b3f"/><rect x="119.9" y="214.9" width="3.4" height="3.4" fill="#ef3b3f"/><rect x="119.9" y="214.9" width="3.4" height="3.4" fill="#ef3b3f"/><rect x="119.9" y="214.9" width="3.4" height="3.4" fill="#ef3b3f"/><rect x="119.9" y="214.9" width="3.4" height="3.4" fill="#ef3b3f"/><circle cx="142.7" cy="86.6" r="1.7" fill="#1f66e5"/><circle cx="138.6" cy="111.3" r="1.7" fill="#1f66e5"/><circle cx="135.3" cy="131.4" r="1.7" fill="#1f66e5"/><circle cx="132.7" cy="147.6" r="1.7" fill="#1f66e5"/><circle cx="130.5" cy="160.8" r="1.7" fill="#1f66e5"/><circle cx="128.8" cy="171.4" r="1.7" fill="#1f66e5"/><circle cx="127.4" cy="180" r="1.7" fill="#1f66e5"/><circle cx="126.3" cy="187" r="1.7" fill="#1f66e5"/><circle cx="125.4" cy="192.6" r="1.7" fill="#1f66e5"/><circle cx="124.7" cy="197.2" r="1.7" fill="#1f66e5"/><circle cx="124.1" cy="200.9" r="1.7" fill="#1f66e5"/><circle cx="123.6" cy="203.9" r="1.7" fill="#1f66e5"/><circle cx="123.2" cy="206.3" r="1.7" fill="#1f66e5"/><circle cx="122.9" cy="208.3" r="1.7" fill="#1f66e5"/><circle cx="122.7" cy="209.9" r="1.7" fill="#1f66e5"/><circle cx="122.5" cy="211.2" r="1.7" fill="#1f66e5"/><circle cx="122.3" cy="212.2" r="1.7" fill="#1f66e5"/><circle cx="122.2" cy="213" r="1.7" fill="#1f66e5"/><circle cx="122.1" cy="213.7" r="1.7" fill="#1f66e5"/><circle cx="122" cy="214.3" r="1.7" fill="#1f66e5"/><circle cx="121.9" cy="214.7" r="1.7" fill="#1f66e5"/><circle cx="121.9" cy="215.1" r="1.7" fill="#1f66e5"/><circle cx="121.8" cy="215.4" r="1.7" fill="#1f66e5"/><circle cx="121.8" cy="215.6" r="1.7" fill="#1f66e5"/><circle cx="121.7" cy="215.8" r="1.7" fill="#1f66e5"/><circle cx="121.7" cy="215.9" r="1.7" fill="#1f66e5"/><circle cx="121.7" cy="216.1" r="1.7" fill="#1f66e5"/><circle cx="121.7" cy="216.2" r="1.7" fill="#1f66e5"/><circle cx="121.7" cy="216.3" r="1.7" fill="#1f66e5"/><circle cx="121.7" cy="216.3" r="1.7" fill="#1f66e5"/><circle cx="121.6" cy="216.4" r="1.7" fill="#1f66e5"/><circle cx="121.6" cy="216.4" r="1.7" fill="#1f66e5"/><circle cx="121.6" cy="216.5" r="1.7" fill="#1f66e5"/><circle cx="121.6" cy="216.5" r="1.7" fill="#1f66e5"/><circle cx="121.6" cy="216.5" r="1.7" fill="#1f66e5"/><circle cx="121.6" cy="216.5" r="1.7" fill="#1f66e5"/><circle cx="121.6" cy="216.5" r="1.7" fill="#1f66e5"/><circle cx="121.6" cy="216.5" r="1.7" fill="#1f66e5"/><circle cx="121.6" cy="216.6" r="1.7" fill="#1f66e5"/><circle cx="121.6" cy="216.6" r="1.7" fill="#1f66e5"/><circle cx="121.6" cy="216.6" r="1.7" fill="#1f66e5"/><circle cx="121.6" cy="216.6" r="1.7" fill="#1f66e5"/><circle cx="121.6" cy="216.6" r="1.7" fill="#1f66e5"/><circle cx="121.6" cy="216.6" r="1.7" fill="#1f66e5"/><circle cx="121.6" cy="216.6" r="1.7" fill="#1f66e5"/><circle cx="121.6" cy="216.6" r="1.7" fill="#1f66e5"/><circle cx="121.6" cy="216.6" r="1.7" fill="#1f66e5"/><circle cx="121.6" cy="216.6" r="1.7" fill="#1f66e5"/><circle cx="121.6" cy="216.6" r="1.7" fill="#1f66e5"/><circle cx="121.6" cy="216.6" r="1.7" fill="#1f66e5"/><circle cx="121.6" cy="216.6" r="1.7" fill="#1f66e5"/><circle cx="121.6" cy="216.6" r="1.7" fill="#1f66e5"/><circle cx="121.6" cy="216.6" r="1.7" fill="#1f66e5"/><circle cx="121.6" cy="216.6" r="1.7" fill="#1f66e5"/><circle cx="121.6" cy="216.6" r="1.7" fill="#1f66e5"/><circle cx="121.6" cy="216.6" r="1.7" fill="#1f66e5"/><polyline points="151.4,120.9 149.9,125.1 148.4,129.2 147,133.2 145.7,136.9 144.4,140.5 143.2,143.9 142.1,147.2 141,150.3 140,153.3 139.1,156.2 138.2,158.9 137.4,161.5 136.6,164 135.8,166.4 135.1,168.7 134.4,170.8 133.8,172.9 133.1,174.9 132.6,176.8 132,178.6 131.5,180.3 131,182 130.5,183.6 130.1,185.1 129.7,186.5 129.3,187.9 128.9,189.2 128.5,190.4 128.2,191.6 127.9,192.8 127.6,193.9 127.3,194.9 127,195.9 126.7,196.9 126.5,197.8 126.2,198.6 126,199.4 125.8,200.2 125.6,201 125.4,201.7 125.2,202.4 125,203 124.9,203.7 124.7,204.3 124.6,204.8 124.4,205.4 124.3,205.9 124.2,206.4 124,206.8 123.9,207.3 123.8,207.7 123.7,208.1 123.6,208.5 123.5,208.9 123.4,209.2 123.3,209.6 123.2,209.9 123.2,210.2 123.1,210.5 123,210.8 122.9,211.1 122.9,211.3 122.8,211.6 122.8,211.8 122.7,212 122.7,212.2 122.6,212.4 122.6,212.6 122.5,212.8 122.5,213 122.4,213.2 122.4,213.3 122.4,213.5 122.3,213.6 122.3,213.8 122.3,213.9 122.2,214 122.2,214.1 122.2,214.2 122.1,214.4 122.1,214.5 122.1,214.6 122.1,214.7 122,214.7 122,214.8 122,214.9 122,215 122,215.1 122,215.1 121.9,215.2 121.9,215.3 121.9,215.3 121.9,215.4 121.9,215.4 121.9,215.5 121.9,215.6 121.8,215.6 121.8,215.6 121.8,215.7 121.8,215.7 121.8,215.8 121.8,215.8 121.8,215.9 121.8,215.9 121.8,215.9 121.8,216 121.8,216 121.8,216 121.7,216 121.7,216.1 121.7,216.1 121.7,216.1 121.7,216.1 121.7,216.2 121.7,216.2 121.7,216.2 121.7,216.2 121.7,216.2 121.7,216.3 121.7,216.3 121.7,216.3 121.7,216.3 121.7,216.3 121.7,216.3 121.7,216.3 121.7,216.4 121.7,216.4 121.7,216.4 121.7,216.4 121.7,216.4 121.7,216.4 121.7,216.4 121.7,216.4 121.7,216.4 121.7,216.4 121.7,216.4 121.7,216.5 121.7,216.5 121.7,216.5 121.7,216.5 121.7,216.5 121.7,216.5 121.7,216.5 121.6,216.5 121.6,216.5 121.6,216.5 121.6,216.5 121.6,216.5 121.6,216.5 121.6,216.5 121.6,216.5 121.6,216.5 121.6,216.5 121.6,216.5 121.6,216.5 121.6,216.5 121.6,216.5 121.6,216.5 121.6,216.6 121.6,216.6 121.6,216.6 121.6,216.6 121.6,216.6 121.6,216.6 121.6,216.6 121.6,216.6 121.6,216.6 121.6,216.6 121.6,216.6 121.6,216.6 121.6,216.6 121.6,216.6 121.6,216.6 121.6,216.6 121.6,216.6 121.6,216.6 121.6,216.6 121.6,216.6 121.6,216.6 121.6,216.6 121.6,216.6 121.6,216.6 121.6,216.6 121.6,216.6 121.6,216.6 121.6,216.6 121.6,216.6 121.6,216.6 121.6,216.6 121.6,216.6 121.6,216.6 121.6,216.6 121.6,216.6 121.6,216.6 121.6,216.6 121.6,216.6 121.6,216.6 121.6,216.6 121.6,216.6 121.6,216.6 121.6,216.6 121.6,216.6 121.6,216.6 121.6,216.6 121.6,216.6 121.6,216.6 121.6,216.6 121.6,216.6 121.6,216.6 121.6,216.6 121.6,216.6 121.6,216.6 121.6,216.6 121.6,216.6 121.6,216.6 121.6,216.6 121.6,216.6 121.6,216.6 121.6,216.6 121.6,216.6 121.6,216.6 121.6,216.6 121.6,216.6 121.6,216.6 121.6,216.6 121.6,216.6 121.6,216.6 121.6,216.6 121.6,216.6 121.6,216.6 121.6,216.6 121.6,216.6 121.6,216.6 121.6,216.6 121.6,216.6 121.6,216.6 121.6,216.6 121.6,216.6 121.6,216.6 121.6,216.6 121.6,216.6 121.6,216.6 121.6,216.6 121.6,216.6 121.6,216.6 121.6,216.6 121.6,216.6 121.6,216.6 121.6,216.6 121.6,216.6 121.6,216.6 121.6,216.6 121.6,216.6 121.6,216.6 121.6,216.6 121.6,216.6 121.6,216.6 121.6,216.6 121.6,216.6 121.6,216.6 121.6,216.6 121.6,216.6 121.6,216.6 121.6,216.6 121.6,216.6 121.6,216.6 121.6,216.6 121.6,216.6 121.6,216.6 121.6,216.6 121.6,216.6 121.6,216.6 121.6,216.6 121.6,216.6 121.6,216.6 121.6,216.6 121.6,216.6 121.6,216.6 121.6,216.6 121.6,216.6 121.6,216.6 121.6,216.6 121.6,216.6 121.6,216.6 121.6,216.6 121.6,216.6 121.6,216.6 121.6,216.6 121.6,216.6 121.6,216.6 121.6,216.6 121.6,216.6 121.6,216.6 121.6,216.6 121.6,216.6 121.6,216.6 121.6,216.6 121.6,216.6 121.6,216.6" fill="none" stroke="#000" stroke-width="1.2"/><polyline points="167.5,193.8 166.4,194 165.2,194.2 164,194.4 162.9,194.7 161.8,194.9 160.8,195.2 159.7,195.5 158.7,195.8 157.7,196.1 156.7,196.5 155.8,196.8 154.8,197.2 153.9,197.5 153.1,197.9 152.2,198.3 151.4,198.6 150.6,199 149.9,199.4 149.1,199.7 148.4,200.1 147.7,200.5 147.1,200.8 146.4,201.2 145.8,201.5 145.2,201.9 144.7,202.2 144.1,202.6 143.6,202.9 143.1,203.2 142.6,203.5 142.1,203.9 141.6,204.2 141.2,204.4 140.8,204.7 140.4,205 140,205.3 139.6,205.5 139.2,205.8 138.8,206 138.5,206.2 138.1,206.5 137.8,206.7 137.5,206.9 137.1,207.1 136.8,207.3 136.5,207.4 136.2,207.6 135.9,207.8 135.6,207.9 135.3,208.1 135,208.2 134.7,208.3 134.5,208.5 134.2,208.6 133.9,208.7 133.6,208.8 133.3,208.9 133.1,209 132.8,209.1 132.5,209.2 132.2,209.3 131.9,209.4 131.7,209.4 131.4,209.5 131.1,209.6 130.8,209.7 130.5,209.8 130.2,209.9 129.9,209.9 129.7,210 129.4,210.1 129.1,210.2 128.8,210.3 128.5,210.4 128.2,210.5 128,210.6 127.7,210.7 127.4,210.8 127.2,210.9 126.9,211 126.6,211.1 126.4,211.2 126.2,211.4 125.9,211.5 125.7,211.6 125.5,211.7 125.3,211.9 125,212 124.8,212.1 124.7,212.2 124.5,212.4 124.3,212.5 124.1,212.6 124,212.8 123.8,212.9 123.7,213 123.6,213.1 123.4,213.3 123.3,213.4 123.2,213.5 123.1,213.6 123,213.7 122.9,213.8 122.8,214 122.7,214.1 122.7,214.2 122.6,214.3 122.5,214.4 122.5,214.5 122.4,214.5 122.4,214.6 122.3,214.7 122.3,214.8 122.2,214.9 122.2,214.9 122.1,215 122.1,215.1 122.1,215.2 122,215.2 122,215.3 122,215.3 121.9,215.4 121.9,215.4 121.9,215.5 121.9,215.5 121.9,215.6 121.8,215.6 121.8,215.7 121.8,215.7 121.8,215.8 121.8,215.8 121.8,215.8 121.7,215.9 121.7,215.9 121.7,215.9 121.7,216 121.7,216 121.7,216 121.7,216.1 121.7,216.1 121.7,216.1 121.7,216.1 121.7,216.1 121.7,216.2 121.6,216.2 121.6,216.2 121.6,216.2 121.6,216.2 121.6,216.3 121.6,216.3 121.6,216.3 121.6,216.3 121.6,216.3 121.6,216.3 121.6,216.3 121.6,216.4 121.6,216.4 121.6,216.4 121.6,216.4 121.6,216.4 121.6,216.4 121.6,216.4 121.6,216.4 121.6,216.4 121.6,216.4 121.6,216.4 121.6,216.5 121.6,216.5 121.6,216.5 121.6,216.5 121.6,216.5 121.6,216.5 121.6,216.5 121.6,216.5 121.6,216.5 121.6,216.5 121.6,216.5 121.6,216.5 121.6,216.5 121.6,216.5 121.6,216.5 121.6,216.5 121.6,216.5 121.6,216.5 121.6,216.5 121.6,216.5 121.6,216.5 121.6,216.5 121.6,216.5 121.6,216.6 121.6,216.6 121.6,216.6 121.6,216.6 121.6,216.6 121.6,216.6 121.6,216.6 121.6,216.6 121.6,216.6 121.6,216.6 121.6,216.6 121.6,216.6 121.6,216.6 121.6,216.6 121.6,216.6 121.6,216.6 121.6,216.6 121.6,216.6 121.6,216.6 121.6,216.6 121.5,216.6 121.5,216.6 121.5,216.6 121.5,216.6 121.5,216.6 121.5,216.6 121.5,216.6 121.5,216.6 121.5,216.6 121.5,216.6 121.5,216.6 121.5,216.6 121.5,216.6 121.5,216.6 121.5,216.6 121.5,216.6 121.5,216.6 121.5,216.6 121.5,216.6 121.5,216.6 121.5,216.6 121.5,216.6 121.5,216.6 121.5,216.6 121.5,216.6 121.5,216.6 121.5,216.6 121.5,216.6 121.5,216.6 121.5,216.6 121.5,216.6 121.5,216.6 121.5,216.6 121.5,216.6 121.5,216.6 121.5,216.6 121.5,216.6 121.5,216.6 121.5,216.6 121.5,216.6 121.5,216.6 121.5,216.6 121.5,216.6 121.5,216.6 121.5,216.6 121.5,216.6 121.5,216.6 121.5,216.6 121.5,216.6 121.5,216.6 121.5,216.6 121.5,216.6 121.5,216.6 121.5,216.6 121.5,216.6 121.5,216.6 121.5,216.6 121.5,216.6 121.5,216.6 121.5,216.6 121.5,216.6 121.5,216.6 121.5,216.6 121.5,216.6 121.5,216.6 121.5,216.6 121.5,216.6 121.5,216.6 121.5,216.6 121.5,216.6 121.5,216.6 121.5,216.6 121.5,216.6 121.5,216.6 121.5,216.6 121.5,216.6 121.5,216.6 121.5,216.6 121.5,216.6 121.5,216.6 121.5,216.6 121.5,216.6 121.5,216.6 121.5,216.6 121.5,216.6 121.5,216.6 121.5,216.6 121.5,216.6 121.5,216.6 121.5,216.6" fill="none" stroke="#000" stroke-width="1.2"/><polyline points="718.3,-2845 685.4,-2698.6 654.5,-2559.2 625.4,-2426.4 598,-2299.9 572.3,-2179.4 548,-2064.6 525.1,-1955.3 503.5,-1851.3 483.2,-1752.1 464,-1657.7 445.9,-1567.8 428.8,-1482.2 412.7,-1400.7 397.4,-1323 383,-1249.1 369.4,-1178.7 356.6,-1111.7 344.4,-1047.9 332.9,-987.1 322,-929.3 311.7,-874.2 302,-821.8 292.8,-771.8 284,-724.3 275.8,-679 267.9,-635.9 260.5,-594.9 253.5,-555.9 246.8,-518.7 240.5,-483.3 234.5,-449.6 228.8,-417.6 223.5,-387 218.4,-358 213.5,-330.3 208.9,-304 204.5,-278.9 200.4,-255 196.5,-232.3 192.8,-210.7 189.2,-190.1 185.9,-170.5 182.7,-151.8 179.6,-134.1 176.8,-117.2 174,-101.1 171.4,-85.8 169,-71.2 166.6,-57.3 164.4,-44.1 162.3,-31.5 160.3,-19.6 158.4,-8.2 156.6,2.7 154.9,13 153.2,22.8 151.7,32.1 150.2,41 148.8,49.5 147.5,57.6 146.2,65.2 145,72.5 143.8,79.5 142.7,86.1 141.7,92.4 140.7,98.4 139.8,104.1 138.9,109.5 138,114.7 137.2,119.6 136.5,124.3 135.8,128.8 135.1,133 134.4,137 133.8,140.9 133.2,144.5 132.6,148 132.1,151.3 131.6,154.5 131.1,157.5 130.6,160.3 130.2,163.1 129.8,165.6 129.4,168.1 129,170.4 128.6,172.7 128.3,174.8 128,176.8 127.6,178.7 127.4,180.6 127.1,182.3 126.8,184 126.6,185.5 126.3,187 126.1,188.5 125.9,189.8 125.7,191.1 125.5,192.4 125.3,193.5 125.1,194.6 124.9,195.7 124.8,196.7 124.6,197.7 124.5,198.6 124.3,199.5 124.2,200.3 124.1,201.1 123.9,201.8 123.8,202.5 123.7,203.2 123.6,203.9 123.5,204.5 123.4,205.1 123.3,205.6 123.3,206.2 123.2,206.7 123.1,207.1 123,207.6 123,208 122.9,208.4 122.8,208.8 122.8,209.2 122.7,209.6 122.7,209.9 122.6,210.2 122.6,210.5 122.5,210.8 122.5,211.1 122.4,211.4 122.4,211.6 122.4,211.9 122.3,212.1 122.3,212.3 122.3,212.5 122.2,212.7 122.2,212.9 122.2,213.1 122.1,213.3 122.1,213.4 122.1,213.6 122.1,213.7 122,213.9 122,214 122,214.1 122,214.2 122,214.4 121.9,214.5 121.9,214.6 121.9,214.7 121.9,214.8 121.9,214.8 121.9,214.9 121.9,215 121.8,215.1 121.8,215.2 121.8,215.2 121.8,215.3 121.8,215.4 121.8,215.4 121.8,215.5 121.8,215.5 121.8,215.6 121.8,215.6 121.8,215.7 121.8,215.7 121.7,215.8 121.7,215.8 121.7,215.8 121.7,215.9 121.7,215.9 121.7,216 121.7,216 121.7,216 121.7,216 121.7,216.1 121.7,216.1 121.7,216.1 121.7,216.1 121.7,216.2 121.7,216.2 121.7,216.2 121.7,216.2 121.7,216.2 121.7,216.3 121.7,216.3 121.7,216.3 121.7,216.3 121.7,216.3 121.7,216.3 121.7,216.3 121.7,216.4 121.7,216.4 121.6,216.4 121.6,216.4 121.6,216.4 121.6,216.4 121.6,216.4 121.6,216.4 121.6,216.4 121.6,216.4 121.6,216.5 121.6,216.5 121.6,216.5 121.6,216.5 121.6,216.5 121.6,216.5 121.6,216.5 121.6,216.5 121.6,216.5 121.6,216.5 121.6,216.5 121.6,216.5 121.6,216.5 121.6,216.5 121.6,216.5 121.6,216.5 121.6,216.5 121.6,216.5 121.6,216.5 121.6,216.5 121.6,216.5 121.6,216.5 121.6,216.6 121.6,216.6 121.6,216.6 121.6,216.6 121.6,216.6 121.6,216.6 121.6,216.6 121.6,216.6 121.6,216.6 121.6,216.6 121.6,216.6 121.6,216.6 121.6,216.6 121.6,216.6 121.6,216.6 121.6,216.6 121.6,216.6 121.6,216.6 121.6,216.6 121.6,216.6 121.6,216.6 121.6,216.6 121.6,216.6 121.6,216.6 121.6,216.6 121.6,216.6 121.6,216.6 121.6,216.6 121.6,216.6 121.6,216.6 121.6,216.6 121.6,216.6 121.6,216.6 121.6,216.6 121.6,216.6 121.6,216.6 121.6,216.6 121.6,216.6 121.6,216.6 121.6,216.6 121.6,216.6 121.6,216.6 121.6,216.6 121.6,216.6 121.6,216.6 121.6,216.6 121.6,216.6 121.6,216.6 121.6,216.6 121.6,216.6 121.6,216.6 121.6,216.6 121.6,216.6 121.6,216.6 121.6,216.6 121.6,216.6 121.6,216.6 121.6,216.6 121.6,216.6 121.6,216.6 121.6,216.6 121.6,216.6 121.6,216.6 121.6,216.6 121.6,216.6 121.6,216.6 121.6,216.6 121.6,216.6 121.6,216.6 121.6,216.6 121.6,216.6 121.6,216.6 121.6,216.6 121.6,216.6 121.6,216.6 121.6,216.6 121.6,216.6" fill="none" stroke="#000" stroke-width="1.2"/></g><rect x="121.5" y="90.6" width="156" height="126" fill="none" stroke="#000" stroke-width="1"/><line x1="121.5" y1="216.6" x2="124" y2="216.6" stroke="#000" stroke-width="0.8"/><line x1="121.5" y1="216.6" x2="121.5" y2="214.1" stroke="#000" stroke-width="0.8"/><line x1="121.5" y1="204" x2="123" y2="204" stroke="#000" stroke-width="0.8"/><line x1="137.1" y1="216.6" x2="137.1" y2="215.1" stroke="#000" stroke-width="0.8"/><line x1="121.5" y1="191.4" x2="124" y2="191.4" stroke="#000" stroke-width="0.8"/><line x1="152.7" y1="216.6" x2="152.7" y2="214.1" stroke="#000" stroke-width="0.8"/><line x1="121.5" y1="178.8" x2="123" y2="178.8" stroke="#000" stroke-width="0.8"/><line x1="168.3" y1="216.6" x2="168.3" y2="215.1" stroke="#000" stroke-width="0.8"/><line x1="121.5" y1="166.2" x2="124" y2="166.2" stroke="#000" stroke-width="0.8"/><line x1="183.9" y1="216.6" x2="183.9" y2="214.1" stroke="#000" stroke-width="0.8"/><line x1="121.5" y1="153.6" x2="123" y2="153.6" stroke="#000" stroke-width="0.8"/><line x1="199.5" y1="216.6" x2="199.5" y2="215.1" stroke="#000" stroke-width="0.8"/><line x1="121.5" y1="141" x2="124" y2="141" stroke="#000" stroke-width="0.8"/><line x1="215.1" y1="216.6" x2="215.1" y2="214.1" stroke="#000" stroke-width="0.8"/><line x1="121.5" y1="128.4" x2="123" y2="128.4" stroke="#000" stroke-width="0.8"/><line x1="230.7" y1="216.6" x2="230.7" y2="215.1" stroke="#000" stroke-width="0.8"/><line x1="121.5" y1="115.8" x2="124" y2="115.8" stroke="#000" stroke-width="0.8"/><line x1="246.3" y1="216.6" x2="246.3" y2="214.1" stroke="#000" stroke-width="0.8"/><line x1="121.5" y1="103.2" x2="123" y2="103.2" stroke="#000" stroke-width="0.8"/><line x1="261.9" y1="216.6" x2="261.9" y2="215.1" stroke="#000" stroke-width="0.8"/><line x1="121.5" y1="90.6" x2="124" y2="90.6" stroke="#000" stroke-width="0.8"/><line x1="277.5" y1="216.6" x2="277.5" y2="214.1" stroke="#000" stroke-width="0.8"/><text x="119.6" y="194.4" font-size="8.6" text-anchor="end" >2×10<tspan font-size="5.8" dy="-3.6">4</tspan></text><text x="153.5" y="226.5" font-size="8.6" text-anchor="middle" >2×10<tspan font-size="5.8" dy="-3.6">4</tspan></text><text x="119.6" y="169.2" font-size="8.6" text-anchor="end" >4×10<tspan font-size="5.8" dy="-3.6">4</tspan></text><text x="184.7" y="226.5" font-size="8.6" text-anchor="middle" >4×10<tspan font-size="5.8" dy="-3.6">4</tspan></text><text x="119.6" y="144" font-size="8.6" text-anchor="end" >6×10<tspan font-size="5.8" dy="-3.6">4</tspan></text><text x="215.9" y="226.5" font-size="8.6" text-anchor="middle" >6×10<tspan font-size="5.8" dy="-3.6">4</tspan></text><text x="119.6" y="118.8" font-size="8.6" text-anchor="end" >8×10<tspan font-size="5.8" dy="-3.6">4</tspan></text><text x="247.1" y="226.5" font-size="8.6" text-anchor="middle" >8×10<tspan font-size="5.8" dy="-3.6">4</tspan></text><text x="119.6" y="93.6" font-size="8.6" text-anchor="end" >1×10<tspan font-size="5.8" dy="-3.6">5</tspan></text><text x="278.3" y="226.5" font-size="8.6" text-anchor="middle" >1×10<tspan font-size="5.8" dy="-3.6">5</tspan></text><text x="121.6" y="226.4" font-size="8.6" text-anchor="middle" >0</text><rect x="174.1" y="114" width="44.6" height="70.5" fill="#b4c7e7"/><rect x="218.7" y="114" width="44.3" height="70.5" fill="#c5e0b4"/><rect x="263" y="114" width="43.6" height="70.5" fill="#ffe699"/><polyline points="183,147.8 194.3,147.8" stroke="#262626" stroke-width="0.9" fill="none"/><polyline points="194.3,135.3 194.3,156" stroke="#262626" stroke-width="0.9" fill="none"/><polyline points="194.3,135.3 237.6,135.3" stroke="#262626" stroke-width="0.9" fill="none"/><polyline points="240.4,135.3 256.1,135.3 256.1,156.2" stroke="#262626" stroke-width="0.9" fill="none"/><polyline points="194.3,156 204.5,156" stroke="#262626" stroke-width="0.9" fill="none"/><polyline points="204.5,151.3 204.5,160.1" stroke="#262626" stroke-width="0.9" fill="none"/><polyline points="204.5,151.3 217.6,151.3" stroke="#262626" stroke-width="0.9" fill="none"/><polyline points="219.4,151.3 235.8,151.3 235.8,160.1 223.7,160.1" stroke="#262626" stroke-width="0.9" fill="none"/><polyline points="204.5,160.1 215.1,160.1" stroke="#262626" stroke-width="0.9" fill="none"/><polyline points="235.8,156.2 242.3,156.2" stroke="#262626" stroke-width="0.9" fill="none"/><polyline points="250.6,156.2 256.1,156.2" stroke="#262626" stroke-width="0.9" fill="none"/><polyline points="256.1,147.5 267.1,147.5" stroke="#262626" stroke-width="0.9" fill="none"/><polyline points="274.7,147.5 285,147.5" stroke="#262626" stroke-width="0.9" fill="none"/><line x1="237.6" y1="132.2" x2="237.6" y2="138.4" stroke="#262626" stroke-width="0.9" fill="none"/><line x1="240.4" y1="132.2" x2="240.4" y2="138.4" stroke="#262626" stroke-width="0.9" fill="none"/><line x1="217.6" y1="148.2" x2="217.6" y2="154.4" stroke="#262626" stroke-width="0.9" fill="none"/><line x1="219.4" y1="148.2" x2="219.4" y2="154.4" stroke="#262626" stroke-width="0.9" fill="none"/><rect x="215.1" y="158.3" width="8.6" height="3.8" stroke="#262626" stroke-width="0.9" fill="none"/><rect x="242.3" y="154.3" width="8.3" height="4" stroke="#262626" stroke-width="0.9" fill="none"/><rect x="267.1" y="145.6" width="7.6" height="3.8" stroke="#262626" stroke-width="0.9" fill="none"/><circle cx="183.1" cy="148.1" r="3.2" fill="#5b9bd5"/><circle cx="286.7" cy="147.8" r="3.2" fill="#5b9bd5"/><text x="182.9" y="142.8" font-size="8.2" text-anchor="middle" fill="#1a1a1a">WE</text><text x="287.8" y="142.4" font-size="8.2" text-anchor="middle" fill="#1a1a1a">RE</text><text x="239" y="129.3" font-size="9" text-anchor="middle" fill="#1a1a1a">Q<tspan font-size="6" dy="1.6">1</tspan></text><text x="217.8" y="145.3" font-size="9" text-anchor="middle" fill="#1a1a1a">Q<tspan font-size="6" dy="1.6">2</tspan></text><text x="220" y="172.2" font-size="8.2" text-anchor="middle" fill="#1a1a1a">R<tspan font-size="5.5" dy="1.8">2</tspan></text><text x="247.6" y="166.8" font-size="8.2" text-anchor="middle" fill="#1a1a1a">R<tspan font-size="5.5" dy="1.8">1</tspan></text><text x="271" y="157.6" font-size="8.2" text-anchor="middle" fill="#1a1a1a">R<tspan font-size="5.5" dy="1.8">S</tspan></text><rect x="188.4" y="173.3" width="18.8" height="8.2" fill="#2f5597"/><rect x="232.8" y="173.3" width="14.9" height="8.2" fill="#548235"/><rect x="269.6" y="173.3" width="32.3" height="8.2" fill="#bf9000"/><text x="197.8" y="179.7" font-size="5.7" text-anchor="middle" fill="#fff" font-family="Liberation Sans">Metal</text><text x="240.2" y="179.7" font-size="5.7" text-anchor="middle" fill="#fff" font-family="Liberation Sans">Film</text><text x="285.8" y="179.7" font-size="5.7" text-anchor="middle" fill="#fff" font-family="Liberation Sans">Electrolyte</text><line x1="277.4" y1="184.5" x2="277.4" y2="216.6" stroke="#000" stroke-width="1"/><rect x="63.9" y="25.9" width="255.1" height="204.4" fill="none" stroke="#000" stroke-width="1.75"/><line x1="63.5" y1="230.3" x2="68" y2="230.3" stroke="#000" stroke-width="1.4"/><line x1="64" y1="230.5" x2="64" y2="226.3" stroke="#000" stroke-width="1.4"/><line x1="63.5" y1="209.8" x2="66.2" y2="209.8" stroke="#000" stroke-width="1.4"/><line x1="89.5" y1="230.5" x2="89.5" y2="228.1" stroke="#000" stroke-width="1.4"/><line x1="63.5" y1="189.2" x2="68" y2="189.2" stroke="#000" stroke-width="1.4"/><line x1="115" y1="230.5" x2="115" y2="226.3" stroke="#000" stroke-width="1.4"/><line x1="63.5" y1="168.7" x2="66.2" y2="168.7" stroke="#000" stroke-width="1.4"/><line x1="140.5" y1="230.5" x2="140.5" y2="228.1" stroke="#000" stroke-width="1.4"/><line x1="63.5" y1="148.1" x2="68" y2="148.1" stroke="#000" stroke-width="1.4"/><line x1="166" y1="230.5" x2="166" y2="226.3" stroke="#000" stroke-width="1.4"/><line x1="63.5" y1="127.6" x2="66.2" y2="127.6" stroke="#000" stroke-width="1.4"/><line x1="191.5" y1="230.5" x2="191.5" y2="228.1" stroke="#000" stroke-width="1.4"/><line x1="63.5" y1="107" x2="68" y2="107" stroke="#000" stroke-width="1.4"/><line x1="217" y1="230.5" x2="217" y2="226.3" stroke="#000" stroke-width="1.4"/><line x1="63.5" y1="86.5" x2="66.2" y2="86.5" stroke="#000" stroke-width="1.4"/><line x1="242.5" y1="230.5" x2="242.5" y2="228.1" stroke="#000" stroke-width="1.4"/><line x1="63.5" y1="65.9" x2="68" y2="65.9" stroke="#000" stroke-width="1.4"/><line x1="268" y1="230.5" x2="268" y2="226.3" stroke="#000" stroke-width="1.4"/><line x1="63.5" y1="45.3" x2="66.2" y2="45.3" stroke="#000" stroke-width="1.4"/><line x1="293.5" y1="230.5" x2="293.5" y2="228.1" stroke="#000" stroke-width="1.4"/><line x1="63.5" y1="24.8" x2="68" y2="24.8" stroke="#000" stroke-width="1.4"/><line x1="319" y1="230.5" x2="319" y2="226.3" stroke="#000" stroke-width="1.4"/><text x="60" y="195" font-size="13.5" text-anchor="end" >6×10<tspan font-size="9.2" dy="-5.7">5</tspan></text><text x="115.5" y="248" font-size="13.5" text-anchor="middle" >6×10<tspan font-size="9.2" dy="-5.7">5</tspan></text><text x="60" y="153.9" font-size="13.5" text-anchor="end" >1×10<tspan font-size="9.2" dy="-5.7">6</tspan></text><text x="166.5" y="248" font-size="13.5" text-anchor="middle" >1×10<tspan font-size="9.2" dy="-5.7">6</tspan></text><text x="60" y="112.8" font-size="13.5" text-anchor="end" >2×10<tspan font-size="9.2" dy="-5.7">6</tspan></text><text x="217.5" y="248" font-size="13.5" text-anchor="middle" >2×10<tspan font-size="9.2" dy="-5.7">6</tspan></text><text x="60" y="71.7" font-size="13.5" text-anchor="end" >2×10<tspan font-size="9.2" dy="-5.7">6</tspan></text><text x="268.5" y="248" font-size="13.5" text-anchor="middle" >2×10<tspan font-size="9.2" dy="-5.7">6</tspan></text><text x="60" y="30.6" font-size="13.5" text-anchor="end" >3×10<tspan font-size="9.2" dy="-5.7">6</tspan></text><text x="319.5" y="248" font-size="13.5" text-anchor="middle" >3×10<tspan font-size="9.2" dy="-5.7">6</tspan></text><text x="64.2" y="245.7" font-size="13.5" text-anchor="middle" >0</text><text x="191.8" y="274" font-size="17.7" text-anchor="middle" >Z'(Ω·cm<tspan font-size="11.5" dy="-6.5">2</tspan><tspan dy="6.5">)</tspan></text><text transform="translate(23,127.5) rotate(-90)" font-size="17.7" text-anchor="middle">-Z&quot;(Ω·cm<tspan font-size="11.5" dy="-6.5">2</tspan><tspan dy="6.5">)</tspan></text><rect x="234.2" y="38.6" width="4.8" height="4.8" fill="#ef3b3f"/><circle cx="236.6" cy="55.2" r="2.7" fill="#1f66e5"/><polygon points="236.6,66.2 233.5,71.7 239.7,71.7" fill="#35a862"/><line x1="223.5" y1="83.6" x2="249.7" y2="83.6" stroke="#000" stroke-width="1.6"/><text x="255.8" y="45.1" font-size="11.5" text-anchor="start" >Cr</text><text x="255.8" y="59.3" font-size="11.5" text-anchor="start" >Cr(8.3O)</text><text x="255.8" y="73.6" font-size="11.5" text-anchor="start" >Substrate</text><text x="252.7" y="87.7" font-size="11.5" text-anchor="start" >Fitting</text><text x="346.5" y="13.4" font-size="20.5" text-anchor="start" >(b)</text><rect x="387" y="24.8" width="257.5" height="207.2" fill="url(#bg)"/><g clip-path="url(#cb)"><rect x="385" y="97.2" width="4.6" height="4.6" fill="#ef3b3f"/><rect x="385" y="55.4" width="4.6" height="4.6" fill="#ef3b3f"/><rect x="388.7" y="100.8" width="4.6" height="4.6" fill="#ef3b3f"/><rect x="388.7" y="54.4" width="4.6" height="4.6" fill="#ef3b3f"/><rect x="392.3" y="104.3" width="4.6" height="4.6" fill="#ef3b3f"/><rect x="392.3" y="53.5" width="4.6" height="4.6" fill="#ef3b3f"/><rect x="396" y="107.9" width="4.6" height="4.6" fill="#ef3b3f"/><rect x="396" y="52.8" width="4.6" height="4.6" fill="#ef3b3f"/><rect x="399.6" y="111.5" width="4.6" height="4.6" fill="#ef3b3f"/><rect x="399.6" y="52.1" width="4.6" height="4.6" fill="#ef3b3f"/><rect x="403.3" y="115.1" width="4.6" height="4.6" fill="#ef3b3f"/><rect x="403.3" y="51.6" width="4.6" height="4.6" fill="#ef3b3f"/><rect x="406.9" y="118.7" width="4.6" height="4.6" fill="#ef3b3f"/><rect x="406.9" y="51.2" width="4.6" height="4.6" fill="#ef3b3f"/><rect x="410.6" y="122.3" width="4.6" height="4.6" fill="#ef3b3f"/><rect x="410.6" y="50.8" width="4.6" height="4.6" fill="#ef3b3f"/><rect x="414.2" y="125.9" width="4.6" height="4.6" fill="#ef3b3f"/><rect x="414.2" y="50.5" width="4.6" height="4.6" fill="#ef3b3f"/><rect x="417.9" y="129.6" width="4.6" height="4.6" fill="#ef3b3f"/><rect x="417.9" y="50.3" width="4.6" height="4.6" fill="#ef3b3f"/><rect x="421.6" y="133.2" width="4.6" height="4.6" fill="#ef3b3f"/><rect x="421.6" y="50.1" width="4.6" height="4.6" fill="#ef3b3f"/><rect x="425.2" y="136.8" width="4.6" height="4.6" fill="#ef3b3f"/><rect x="425.2" y="50" width="4.6" height="4.6" fill="#ef3b3f"/><rect x="428.9" y="140.4" width="4.6" height="4.6" fill="#ef3b3f"/><rect x="428.9" y="50" width="4.6" height="4.6" fill="#ef3b3f"/><rect x="432.5" y="144.1" width="4.6" height="4.6" fill="#ef3b3f"/><rect x="432.5" y="50" width="4.6" height="4.6" fill="#ef3b3f"/><rect x="436.2" y="147.7" width="4.6" height="4.6" fill="#ef3b3f"/><rect x="436.2" y="50.2" width="4.6" height="4.6" fill="#ef3b3f"/><rect x="439.8" y="151.3" width="4.6" height="4.6" fill="#ef3b3f"/><rect x="439.8" y="50.4" width="4.6" height="4.6" fill="#ef3b3f"/><rect x="443.5" y="155" width="4.6" height="4.6" fill="#ef3b3f"/><rect x="443.5" y="50.7" width="4.6" height="4.6" fill="#ef3b3f"/><rect x="447.2" y="158.6" width="4.6" height="4.6" fill="#ef3b3f"/><rect x="447.2" y="51.2" width="4.6" height="4.6" fill="#ef3b3f"/><rect x="450.8" y="162.3" width="4.6" height="4.6" fill="#ef3b3f"/><rect x="450.8" y="51.9" width="4.6" height="4.6" fill="#ef3b3f"/><rect x="454.5" y="165.9" width="4.6" height="4.6" fill="#ef3b3f"/><rect x="454.5" y="52.7" width="4.6" height="4.6" fill="#ef3b3f"/><rect x="458.1" y="169.5" width="4.6" height="4.6" fill="#ef3b3f"/><rect x="458.1" y="53.9" width="4.6" height="4.6" fill="#ef3b3f"/><rect x="461.8" y="173.2" width="4.6" height="4.6" fill="#ef3b3f"/><rect x="461.8" y="55.3" width="4.6" height="4.6" fill="#ef3b3f"/><rect x="465.4" y="176.8" width="4.6" height="4.6" fill="#ef3b3f"/><rect x="465.4" y="57.1" width="4.6" height="4.6" fill="#ef3b3f"/><rect x="469.1" y="180.4" width="4.6" height="4.6" fill="#ef3b3f"/><rect x="469.1" y="59.3" width="4.6" height="4.6" fill="#ef3b3f"/><rect x="472.7" y="184" width="4.6" height="4.6" fill="#ef3b3f"/><rect x="472.7" y="62.1" width="4.6" height="4.6" fill="#ef3b3f"/><rect x="476.4" y="187.5" width="4.6" height="4.6" fill="#ef3b3f"/><rect x="476.4" y="65.6" width="4.6" height="4.6" fill="#ef3b3f"/><rect x="480.1" y="191" width="4.6" height="4.6" fill="#ef3b3f"/><rect x="480.1" y="69.8" width="4.6" height="4.6" fill="#ef3b3f"/><rect x="483.7" y="194.4" width="4.6" height="4.6" fill="#ef3b3f"/><rect x="483.7" y="74.9" width="4.6" height="4.6" fill="#ef3b3f"/><rect x="487.4" y="197.8" width="4.6" height="4.6" fill="#ef3b3f"/><rect x="487.4" y="81.1" width="4.6" height="4.6" fill="#ef3b3f"/><rect x="491" y="201" width="4.6" height="4.6" fill="#ef3b3f"/><rect x="491" y="88.4" width="4.6" height="4.6" fill="#ef3b3f"/><rect x="494.7" y="204.1" width="4.6" height="4.6" fill="#ef3b3f"/><rect x="494.7" y="96.8" width="4.6" height="4.6" fill="#ef3b3f"/><rect x="498.3" y="206.9" width="4.6" height="4.6" fill="#ef3b3f"/><rect x="498.3" y="106.5" width="4.6" height="4.6" fill="#ef3b3f"/><rect x="502" y="209.5" width="4.6" height="4.6" fill="#ef3b3f"/><rect x="502" y="117.1" width="4.6" height="4.6" fill="#ef3b3f"/><rect x="505.6" y="211.8" width="4.6" height="4.6" fill="#ef3b3f"/><rect x="505.6" y="128.5" width="4.6" height="4.6" fill="#ef3b3f"/><rect x="509.3" y="213.7" width="4.6" height="4.6" fill="#ef3b3f"/><rect x="509.3" y="140.3" width="4.6" height="4.6" fill="#ef3b3f"/><rect x="513" y="215.3" width="4.6" height="4.6" fill="#ef3b3f"/><rect x="513" y="151.9" width="4.6" height="4.6" fill="#ef3b3f"/><rect x="516.6" y="216.6" width="4.6" height="4.6" fill="#ef3b3f"/><rect x="516.6" y="163.1" width="4.6" height="4.6" fill="#ef3b3f"/><rect x="520.3" y="217.6" width="4.6" height="4.6" fill="#ef3b3f"/><rect x="520.3" y="173.4" width="4.6" height="4.6" fill="#ef3b3f"/><rect x="523.9" y="218.3" width="4.6" height="4.6" fill="#ef3b3f"/><rect x="523.9" y="182.5" width="4.6" height="4.6" fill="#ef3b3f"/><rect x="527.6" y="218.8" width="4.6" height="4.6" fill="#ef3b3f"/><rect x="527.6" y="190.4" width="4.6" height="4.6" fill="#ef3b3f"/><rect x="531.2" y="219.2" width="4.6" height="4.6" fill="#ef3b3f"/><rect x="531.2" y="197.1" width="4.6" height="4.6" fill="#ef3b3f"/><rect x="534.9" y="219.5" width="4.6" height="4.6" fill="#ef3b3f"/><rect x="534.9" y="202.7" width="4.6" height="4.6" fill="#ef3b3f"/><rect x="538.6" y="219.7" width="4.6" height="4.6" fill="#ef3b3f"/><rect x="538.6" y="207.2" width="4.6" height="4.6" fill="#ef3b3f"/><rect x="542.2" y="219.9" width="4.6" height="4.6" fill="#ef3b3f"/><rect x="542.2" y="210.8" width="4.6" height="4.6" fill="#ef3b3f"/><rect x="545.9" y="220" width="4.6" height="4.6" fill="#ef3b3f"/><rect x="545.9" y="213.6" width="4.6" height="4.6" fill="#ef3b3f"/><rect x="549.5" y="220.1" width="4.6" height="4.6" fill="#ef3b3f"/><rect x="549.5" y="215.8" width="4.6" height="4.6" fill="#ef3b3f"/><rect x="553.2" y="220.3" width="4.6" height="4.6" fill="#ef3b3f"/><rect x="553.2" y="217.6" width="4.6" height="4.6" fill="#ef3b3f"/><rect x="556.8" y="220.4" width="4.6" height="4.6" fill="#ef3b3f"/><rect x="556.8" y="219" width="4.6" height="4.6" fill="#ef3b3f"/><rect x="560.5" y="220.5" width="4.6" height="4.6" fill="#ef3b3f"/><rect x="560.5" y="220.2" width="4.6" height="4.6" fill="#ef3b3f"/><rect x="564.1" y="220.6" width="4.6" height="4.6" fill="#ef3b3f"/><rect x="564.1" y="221.3" width="4.6" height="4.6" fill="#ef3b3f"/><rect x="567.8" y="220.7" width="4.6" height="4.6" fill="#ef3b3f"/><rect x="567.8" y="222.3" width="4.6" height="4.6" fill="#ef3b3f"/><rect x="571.5" y="220.8" width="4.6" height="4.6" fill="#ef3b3f"/><rect x="571.5" y="223.3" width="4.6" height="4.6" fill="#ef3b3f"/><rect x="575.1" y="220.9" width="4.6" height="4.6" fill="#ef3b3f"/><rect x="575.1" y="224.1" width="4.6" height="4.6" fill="#ef3b3f"/><rect x="578.8" y="221" width="4.6" height="4.6" fill="#ef3b3f"/><rect x="578.8" y="224.9" width="4.6" height="4.6" fill="#ef3b3f"/><rect x="582.4" y="221" width="4.6" height="4.6" fill="#ef3b3f"/><rect x="582.4" y="225.6" width="4.6" height="4.6" fill="#ef3b3f"/><rect x="586.1" y="221.1" width="4.6" height="4.6" fill="#ef3b3f"/><rect x="586.1" y="226.2" width="4.6" height="4.6" fill="#ef3b3f"/><rect x="589.7" y="221.1" width="4.6" height="4.6" fill="#ef3b3f"/><rect x="589.7" y="226.7" width="4.6" height="4.6" fill="#ef3b3f"/><rect x="593.4" y="221.1" width="4.6" height="4.6" fill="#ef3b3f"/><rect x="593.4" y="227.2" width="4.6" height="4.6" fill="#ef3b3f"/><rect x="597" y="221.2" width="4.6" height="4.6" fill="#ef3b3f"/><rect x="597" y="227.5" width="4.6" height="4.6" fill="#ef3b3f"/><rect x="600.7" y="221.2" width="4.6" height="4.6" fill="#ef3b3f"/><rect x="600.7" y="227.9" width="4.6" height="4.6" fill="#ef3b3f"/><rect x="604.4" y="221.2" width="4.6" height="4.6" fill="#ef3b3f"/><rect x="604.4" y="228.1" width="4.6" height="4.6" fill="#ef3b3f"/><rect x="608" y="221.2" width="4.6" height="4.6" fill="#ef3b3f"/><rect x="608" y="228.3" width="4.6" height="4.6" fill="#ef3b3f"/><rect x="611.7" y="221.2" width="4.6" height="4.6" fill="#ef3b3f"/><rect x="611.7" y="228.5" width="4.6" height="4.6" fill="#ef3b3f"/><rect x="615.3" y="221.2" width="4.6" height="4.6" fill="#ef3b3f"/><rect x="615.3" y="228.7" width="4.6" height="4.6" fill="#ef3b3f"/><rect x="619" y="221.2" width="4.6" height="4.6" fill="#ef3b3f"/><rect x="619" y="228.8" width="4.6" height="4.6" fill="#ef3b3f"/><rect x="622.6" y="221.2" width="4.6" height="4.6" fill="#ef3b3f"/><rect x="622.6" y="228.9" width="4.6" height="4.6" fill="#ef3b3f"/><rect x="626.3" y="221.2" width="4.6" height="4.6" fill="#ef3b3f"/><rect x="626.3" y="229" width="4.6" height="4.6" fill="#ef3b3f"/><rect x="630" y="221.2" width="4.6" height="4.6" fill="#ef3b3f"/><rect x="630" y="229.1" width="4.6" height="4.6" fill="#ef3b3f"/><rect x="633.6" y="221.2" width="4.6" height="4.6" fill="#ef3b3f"/><rect x="633.6" y="229.1" width="4.6" height="4.6" fill="#ef3b3f"/><rect x="637.3" y="221.2" width="4.6" height="4.6" fill="#ef3b3f"/><rect x="637.3" y="229.2" width="4.6" height="4.6" fill="#ef3b3f"/><rect x="640.9" y="221.2" width="4.6" height="4.6" fill="#ef3b3f"/><rect x="640.9" y="229.2" width="4.6" height="4.6" fill="#ef3b3f"/><polygon points="387.3,111.5 384.8,116 389.8,116" fill="#35a862"/><polygon points="387.3,160 384.8,164.5 389.8,164.5" fill="#35a862"/><polygon points="391,113.2 388.4,117.7 393.5,117.7" fill="#35a862"/><polygon points="391,147.3 388.4,151.8 393.5,151.8" fill="#35a862"/><polygon points="394.6,114.9 392.1,119.5 397.1,119.5" fill="#35a862"/><polygon points="394.6,147.3 392.1,151.8 397.1,151.8" fill="#35a862"/><polygon points="398.3,116.8 395.7,121.3 400.8,121.3" fill="#35a862"/><polygon points="398.3,148.3 395.7,152.8 400.8,152.8" fill="#35a862"/><polygon points="401.9,118.6 399.4,123.2 404.5,123.2" fill="#35a862"/><polygon points="401.9,153.9 399.4,158.4 404.5,158.4" fill="#35a862"/><polygon points="405.6,120.5 403.1,125.1 408.1,125.1" fill="#35a862"/><polygon points="405.6,157.4 403.1,161.9 408.1,161.9" fill="#35a862"/><polygon points="409.2,122.4 406.7,127 411.8,127" fill="#35a862"/><polygon points="409.2,146.9 406.7,151.4 411.8,151.4" fill="#35a862"/><polygon points="412.9,124.2 410.4,128.8 415.4,128.8" fill="#35a862"/><polygon points="412.9,146.9 410.4,151.4 415.4,151.4" fill="#35a862"/><polygon points="416.5,126 414,130.5 419.1,130.5" fill="#35a862"/><polygon points="416.5,148.4 414,152.9 419.1,152.9" fill="#35a862"/><polygon points="420.2,127.7 417.7,132.2 422.7,132.2" fill="#35a862"/><polygon points="420.2,146.3 417.7,150.8 422.7,150.8" fill="#35a862"/><polygon points="423.9,129.3 421.3,133.9 426.4,133.9" fill="#35a862"/><polygon points="423.9,145.3 421.3,149.8 426.4,149.8" fill="#35a862"/><polygon points="427.5,130.8 425,135.4 430,135.4" fill="#35a862"/><polygon points="427.5,143.7 425,148.3 430,148.3" fill="#35a862"/><polygon points="431.2,132.3 428.6,136.9 433.7,136.9" fill="#35a862"/><polygon points="431.2,142.7 428.6,147.3 433.7,147.3" fill="#35a862"/><polygon points="434.8,133.8 432.3,138.4 437.4,138.4" fill="#35a862"/><polygon points="434.8,140.8 432.3,145.4 437.4,145.4" fill="#35a862"/><polygon points="438.5,135.3 436,139.9 441,139.9" fill="#35a862"/><polygon points="438.5,137.8 436,142.3 441,142.3" fill="#35a862"/><polygon points="442.1,136.9 439.6,141.5 444.7,141.5" fill="#35a862"/><polygon points="442.1,133.5 439.6,138.1 444.7,138.1" fill="#35a862"/><polygon points="445.8,138.6 443.3,143.2 448.3,143.2" fill="#35a862"/><polygon points="445.8,128.2 443.3,132.7 448.3,132.7" fill="#35a862"/><polygon points="449.5,140.5 446.9,145 452,145" fill="#35a862"/><polygon points="449.5,121.8 446.9,126.4 452,126.4" fill="#35a862"/><polygon points="453.1,142.6 450.6,147.1 455.6,147.1" fill="#35a862"/><polygon points="453.1,114.8 450.6,119.3 455.6,119.3" fill="#35a862"/><polygon points="456.8,144.9 454.2,149.4 459.3,149.4" fill="#35a862"/><polygon points="456.8,107.3 454.2,111.9 459.3,111.9" fill="#35a862"/><polygon points="460.4,147.4 457.9,151.9 462.9,151.9" fill="#35a862"/><polygon points="460.4,99.9 457.9,104.4 462.9,104.4" fill="#35a862"/><polygon points="464.1,150.2 461.5,154.7 466.6,154.7" fill="#35a862"/><polygon points="464.1,92.6 461.5,97.2 466.6,97.2" fill="#35a862"/><polygon points="467.7,153.1 465.2,157.7 470.3,157.7" fill="#35a862"/><polygon points="467.7,85.9 465.2,90.5 470.3,90.5" fill="#35a862"/><polygon points="471.4,156.2 468.9,160.8 473.9,160.8" fill="#35a862"/><polygon points="471.4,79.9 468.9,84.5 473.9,84.5" fill="#35a862"/><polygon points="475,159.5 472.5,164 477.6,164" fill="#35a862"/><polygon points="475,74.7 472.5,79.3 477.6,79.3" fill="#35a862"/><polygon points="478.7,162.8 476.2,167.4 481.2,167.4" fill="#35a862"/><polygon points="478.7,70.3 476.2,74.8 481.2,74.8" fill="#35a862"/><polygon points="482.4,166.3 479.8,170.8 484.9,170.8" fill="#35a862"/><polygon points="482.4,66.6 479.8,71.1 484.9,71.1" fill="#35a862"/><polygon points="486,169.8 483.5,174.3 488.5,174.3" fill="#35a862"/><polygon points="486,63.6 483.5,68.2 488.5,68.2" fill="#35a862"/><polygon points="489.7,173.3 487.1,177.9 492.2,177.9" fill="#35a862"/><polygon points="489.7,61.3 487.1,65.9 492.2,65.9" fill="#35a862"/><polygon points="493.3,176.9 490.8,181.5 495.9,181.5" fill="#35a862"/><polygon points="493.3,59.7 490.8,64.2 495.9,64.2" fill="#35a862"/><polygon points="497,180.5 494.5,185.1 499.5,185.1" fill="#35a862"/><polygon points="497,58.6 494.5,63.2 499.5,63.2" fill="#35a862"/><polygon points="500.6,184.1 498.1,188.7 503.2,188.7" fill="#35a862"/><polygon points="500.6,58.1 498.1,62.6 503.2,62.6" fill="#35a862"/><polygon points="504.3,187.7 501.8,192.3 506.8,192.3" fill="#35a862"/><polygon points="504.3,58.1 501.8,62.7 506.8,62.7" fill="#35a862"/><polygon points="507.9,191.4 505.4,195.9 510.5,195.9" fill="#35a862"/><polygon points="507.9,58.7 505.4,63.2 510.5,63.2" fill="#35a862"/><polygon points="511.6,195 509.1,199.5 514.1,199.5" fill="#35a862"/><polygon points="511.6,59.8 509.1,64.4 514.1,64.4" fill="#35a862"/><polygon points="515.3,198.6 512.7,203.1 517.8,203.1" fill="#35a862"/><polygon points="515.3,61.6 512.7,66.2 517.8,66.2" fill="#35a862"/><polygon points="518.9,202.1 516.4,206.7 521.4,206.7" fill="#35a862"/><polygon points="518.9,64 516.4,68.6 521.4,68.6" fill="#35a862"/><polygon points="522.6,205.6 520,210.2 525.1,210.2" fill="#35a862"/><polygon points="522.6,67.2 520,71.8 525.1,71.8" fill="#35a862"/><polygon points="526.2,209.1 523.7,213.7 528.8,213.7" fill="#35a862"/><polygon points="526.2,71.3 523.7,75.8 528.8,75.8" fill="#35a862"/><polygon points="529.9,212.5 527.4,217.1 532.4,217.1" fill="#35a862"/><polygon points="529.9,76.2 527.4,80.8 532.4,80.8" fill="#35a862"/><polygon points="533.5,215.9 531,220.4 536.1,220.4" fill="#35a862"/><polygon points="533.5,82.3 531,86.8 536.1,86.8" fill="#35a862"/><polygon points="537.2,219 534.7,223.6 539.7,223.6" fill="#35a862"/><polygon points="537.2,89.4 534.7,93.9 539.7,93.9" fill="#35a862"/><polygon points="540.9,222.1 538.3,226.6 543.4,226.6" fill="#35a862"/><polygon points="540.9,97.6 538.3,102.2 543.4,102.2" fill="#35a862"/><polygon points="544.5,224.9 542,229.4 547,229.4" fill="#35a862"/><polygon points="544.5,107 542,111.5 547,111.5" fill="#35a862"/><polygon points="548.2,227.4 545.6,232 550.7,232" fill="#35a862"/><polygon points="548.2,117.3 545.6,121.8 550.7,121.8" fill="#35a862"/><polygon points="551.8,229.7 549.3,234.2 554.4,234.2" fill="#35a862"/><polygon points="551.8,128.3 549.3,132.8 554.4,132.8" fill="#35a862"/><polygon points="555.5,231.6 552.9,236.2 558,236.2" fill="#35a862"/><polygon points="555.5,139.6 552.9,144.1 558,144.1" fill="#35a862"/><polygon points="559.1,233.2 556.6,237.8 561.7,237.8" fill="#35a862"/><polygon points="559.1,150.8 556.6,155.4 561.7,155.4" fill="#35a862"/><polygon points="562.8,234.6 560.3,239.1 565.3,239.1" fill="#35a862"/><polygon points="562.8,161.6 560.3,166.1 565.3,166.1" fill="#35a862"/><polygon points="566.4,235.6 563.9,240.1 569,240.1" fill="#35a862"/><polygon points="566.4,171.6 563.9,176.1 569,176.1" fill="#35a862"/><polygon points="570.1,236.4 567.6,240.9 572.6,240.9" fill="#35a862"/><polygon points="570.1,180.6 567.6,185.1 572.6,185.1" fill="#35a862"/><polygon points="573.8,237 571.2,241.5 576.3,241.5" fill="#35a862"/><polygon points="573.8,188.5 571.2,193.1 576.3,193.1" fill="#35a862"/><polygon points="577.4,237.4 574.9,242 579.9,242" fill="#35a862"/><polygon points="577.4,195.3 574.9,199.9 579.9,199.9" fill="#35a862"/><polygon points="581.1,237.8 578.5,242.3 583.6,242.3" fill="#35a862"/><polygon points="581.1,201.2 578.5,205.7 583.6,205.7" fill="#35a862"/><polygon points="584.7,238 582.2,242.6 587.3,242.6" fill="#35a862"/><polygon points="584.7,206.1 582.2,210.6 587.3,210.6" fill="#35a862"/><polygon points="588.4,238.2 585.9,242.8 590.9,242.8" fill="#35a862"/><polygon points="588.4,210.2 585.9,214.7 590.9,214.7" fill="#35a862"/><polygon points="592,238.4 589.5,242.9 594.6,242.9" fill="#35a862"/><polygon points="592,213.6 589.5,218.1 594.6,218.1" fill="#35a862"/><polygon points="595.7,238.5 593.2,243 598.2,243" fill="#35a862"/><polygon points="595.7,216.4 593.2,220.9 598.2,220.9" fill="#35a862"/><polygon points="599.3,238.6 596.8,243.1 601.9,243.1" fill="#35a862"/><polygon points="599.3,218.7 596.8,223.2 601.9,223.2" fill="#35a862"/><polygon points="603,238.6 600.5,243.2 605.5,243.2" fill="#35a862"/><polygon points="603,220.5 600.5,225.1 605.5,225.1" fill="#35a862"/><polygon points="606.7,238.7 604.1,243.2 609.2,243.2" fill="#35a862"/><polygon points="606.7,222.1 604.1,226.6 609.2,226.6" fill="#35a862"/><polygon points="610.3,238.7 607.8,243.3 612.8,243.3" fill="#35a862"/><polygon points="610.3,223.4 607.8,227.9 612.8,227.9" fill="#35a862"/><polygon points="614,238.7 611.4,243.3 616.5,243.3" fill="#35a862"/><polygon points="614,224.4 611.4,228.9 616.5,228.9" fill="#35a862"/><polygon points="617.6,238.8 615.1,243.3 620.2,243.3" fill="#35a862"/><polygon points="617.6,225.2 615.1,229.8 620.2,229.8" fill="#35a862"/><polygon points="621.3,238.8 618.8,243.3 623.8,243.3" fill="#35a862"/><polygon points="621.3,225.9 618.8,230.5 623.8,230.5" fill="#35a862"/><polygon points="624.9,238.8 622.4,243.3 627.5,243.3" fill="#35a862"/><polygon points="624.9,226.5 622.4,231 627.5,231" fill="#35a862"/><polygon points="628.6,238.8 626.1,243.4 631.1,243.4" fill="#35a862"/><polygon points="628.6,227 626.1,231.5 631.1,231.5" fill="#35a862"/><polygon points="632.3,238.8 629.7,243.4 634.8,243.4" fill="#35a862"/><polygon points="632.3,227.3 629.7,231.9 634.8,231.9" fill="#35a862"/><polygon points="635.9,238.8 633.4,243.4 638.4,243.4" fill="#35a862"/><polygon points="635.9,227.6 633.4,232.2 638.4,232.2" fill="#35a862"/><polygon points="639.6,238.8 637,243.4 642.1,243.4" fill="#35a862"/><polygon points="639.6,227.9 637,232.4 642.1,232.4" fill="#35a862"/><polygon points="643.2,238.8 640.7,243.4 645.8,243.4" fill="#35a862"/><polygon points="643.2,228.1 640.7,232.6 645.8,232.6" fill="#35a862"/><circle cx="387.3" cy="37.4" r="2.3" fill="#1f66e5"/><circle cx="387.3" cy="45.7" r="2.3" fill="#1f66e5"/><circle cx="391" cy="41.2" r="2.3" fill="#1f66e5"/><circle cx="391" cy="45.1" r="2.3" fill="#1f66e5"/><circle cx="394.6" cy="45" r="2.3" fill="#1f66e5"/><circle cx="394.6" cy="44.6" r="2.3" fill="#1f66e5"/><circle cx="398.3" cy="48.7" r="2.3" fill="#1f66e5"/><circle cx="398.3" cy="44.2" r="2.3" fill="#1f66e5"/><circle cx="401.9" cy="52.5" r="2.3" fill="#1f66e5"/><circle cx="401.9" cy="43.8" r="2.3" fill="#1f66e5"/><circle cx="405.6" cy="56.3" r="2.3" fill="#1f66e5"/><circle cx="405.6" cy="43.5" r="2.3" fill="#1f66e5"/><circle cx="409.2" cy="60.1" r="2.3" fill="#1f66e5"/><circle cx="409.2" cy="43.3" r="2.3" fill="#1f66e5"/><circle cx="412.9" cy="63.9" r="2.3" fill="#1f66e5"/><circle cx="412.9" cy="43.1" r="2.3" fill="#1f66e5"/><circle cx="416.5" cy="67.7" r="2.3" fill="#1f66e5"/><circle cx="416.5" cy="42.9" r="2.3" fill="#1f66e5"/><circle cx="420.2" cy="71.5" r="2.3" fill="#1f66e5"/><circle cx="420.2" cy="42.8" r="2.3" fill="#1f66e5"/><circle cx="423.9" cy="75.3" r="2.3" fill="#1f66e5"/><circle cx="423.9" cy="42.7" r="2.3" fill="#1f66e5"/><circle cx="427.5" cy="79.2" r="2.3" fill="#1f66e5"/><circle cx="427.5" cy="42.6" r="2.3" fill="#1f66e5"/><circle cx="431.2" cy="83" r="2.3" fill="#1f66e5"/><circle cx="431.2" cy="42.5" r="2.3" fill="#1f66e5"/><circle cx="434.8" cy="86.8" r="2.3" fill="#1f66e5"/><circle cx="434.8" cy="42.4" r="2.3" fill="#1f66e5"/><circle cx="438.5" cy="90.6" r="2.3" fill="#1f66e5"/><circle cx="438.5" cy="42.4" r="2.3" fill="#1f66e5"/><circle cx="442.1" cy="94.4" r="2.3" fill="#1f66e5"/><circle cx="442.1" cy="42.3" r="2.3" fill="#1f66e5"/><circle cx="445.8" cy="98.2" r="2.3" fill="#1f66e5"/><circle cx="445.8" cy="42.3" r="2.3" fill="#1f66e5"/><circle cx="449.5" cy="102" r="2.3" fill="#1f66e5"/><circle cx="449.5" cy="42.3" r="2.3" fill="#1f66e5"/><circle cx="453.1" cy="105.8" r="2.3" fill="#1f66e5"/><circle cx="453.1" cy="42.3" r="2.3" fill="#1f66e5"/><circle cx="456.8" cy="109.6" r="2.3" fill="#1f66e5"/><circle cx="456.8" cy="42.3" r="2.3" fill="#1f66e5"/><circle cx="460.4" cy="113.4" r="2.3" fill="#1f66e5"/><circle cx="460.4" cy="42.3" r="2.3" fill="#1f66e5"/><circle cx="464.1" cy="117.2" r="2.3" fill="#1f66e5"/><circle cx="464.1" cy="42.3" r="2.3" fill="#1f66e5"/><circle cx="467.7" cy="121.1" r="2.3" fill="#1f66e5"/><circle cx="467.7" cy="42.3" r="2.3" fill="#1f66e5"/><circle cx="471.4" cy="124.9" r="2.3" fill="#1f66e5"/><circle cx="471.4" cy="42.4" r="2.3" fill="#1f66e5"/><circle cx="475" cy="128.7" r="2.3" fill="#1f66e5"/><circle cx="475" cy="42.5" r="2.3" fill="#1f66e5"/><circle cx="478.7" cy="132.5" r="2.3" fill="#1f66e5"/><circle cx="478.7" cy="42.6" r="2.3" fill="#1f66e5"/><circle cx="482.4" cy="136.3" r="2.3" fill="#1f66e5"/><circle cx="482.4" cy="42.8" r="2.3" fill="#1f66e5"/><circle cx="486" cy="140.1" r="2.3" fill="#1f66e5"/><circle cx="486" cy="42.9" r="2.3" fill="#1f66e5"/><circle cx="489.7" cy="143.9" r="2.3" fill="#1f66e5"/><circle cx="489.7" cy="43.2" r="2.3" fill="#1f66e5"/><circle cx="493.3" cy="147.7" r="2.3" fill="#1f66e5"/><circle cx="493.3" cy="43.5" r="2.3" fill="#1f66e5"/><circle cx="497" cy="151.5" r="2.3" fill="#1f66e5"/><circle cx="497" cy="43.9" r="2.3" fill="#1f66e5"/><circle cx="500.6" cy="155.4" r="2.3" fill="#1f66e5"/><circle cx="500.6" cy="44.4" r="2.3" fill="#1f66e5"/><circle cx="504.3" cy="159.2" r="2.3" fill="#1f66e5"/><circle cx="504.3" cy="45" r="2.3" fill="#1f66e5"/><circle cx="507.9" cy="163" r="2.3" fill="#1f66e5"/><circle cx="507.9" cy="45.8" r="2.3" fill="#1f66e5"/><circle cx="511.6" cy="166.8" r="2.3" fill="#1f66e5"/><circle cx="511.6" cy="46.7" r="2.3" fill="#1f66e5"/><circle cx="515.3" cy="170.5" r="2.3" fill="#1f66e5"/><circle cx="515.3" cy="47.9" r="2.3" fill="#1f66e5"/><circle cx="518.9" cy="174.3" r="2.3" fill="#1f66e5"/><circle cx="518.9" cy="49.3" r="2.3" fill="#1f66e5"/><circle cx="522.6" cy="178.1" r="2.3" fill="#1f66e5"/><circle cx="522.6" cy="51.2" r="2.3" fill="#1f66e5"/><circle cx="526.2" cy="181.9" r="2.3" fill="#1f66e5"/><circle cx="526.2" cy="53.4" r="2.3" fill="#1f66e5"/><circle cx="529.9" cy="185.6" r="2.3" fill="#1f66e5"/><circle cx="529.9" cy="56.1" r="2.3" fill="#1f66e5"/><circle cx="533.5" cy="189.3" r="2.3" fill="#1f66e5"/><circle cx="533.5" cy="59.4" r="2.3" fill="#1f66e5"/><circle cx="537.2" cy="193" r="2.3" fill="#1f66e5"/><circle cx="537.2" cy="63.5" r="2.3" fill="#1f66e5"/><circle cx="540.9" cy="196.6" r="2.3" fill="#1f66e5"/><circle cx="540.9" cy="68.5" r="2.3" fill="#1f66e5"/><circle cx="544.5" cy="200.1" r="2.3" fill="#1f66e5"/><circle cx="544.5" cy="74.4" r="2.3" fill="#1f66e5"/><circle cx="548.2" cy="203.5" r="2.3" fill="#1f66e5"/><circle cx="548.2" cy="81.5" r="2.3" fill="#1f66e5"/><circle cx="551.8" cy="206.8" r="2.3" fill="#1f66e5"/><circle cx="551.8" cy="89.8" r="2.3" fill="#1f66e5"/><circle cx="555.5" cy="209.8" r="2.3" fill="#1f66e5"/><circle cx="555.5" cy="99.3" r="2.3" fill="#1f66e5"/><circle cx="559.1" cy="212.7" r="2.3" fill="#1f66e5"/><circle cx="559.1" cy="110" r="2.3" fill="#1f66e5"/><circle cx="562.8" cy="215.2" r="2.3" fill="#1f66e5"/><circle cx="562.8" cy="121.6" r="2.3" fill="#1f66e5"/><circle cx="566.4" cy="217.3" r="2.3" fill="#1f66e5"/><circle cx="566.4" cy="133.9" r="2.3" fill="#1f66e5"/><circle cx="570.1" cy="219.1" r="2.3" fill="#1f66e5"/><circle cx="570.1" cy="146.2" r="2.3" fill="#1f66e5"/><circle cx="573.8" cy="220.6" r="2.3" fill="#1f66e5"/><circle cx="573.8" cy="158.1" r="2.3" fill="#1f66e5"/><circle cx="577.4" cy="221.7" r="2.3" fill="#1f66e5"/><circle cx="577.4" cy="169.2" r="2.3" fill="#1f66e5"/><circle cx="581.1" cy="222.6" r="2.3" fill="#1f66e5"/><circle cx="581.1" cy="179.2" r="2.3" fill="#1f66e5"/><circle cx="584.7" cy="223.2" r="2.3" fill="#1f66e5"/><circle cx="584.7" cy="188.1" r="2.3" fill="#1f66e5"/><circle cx="588.4" cy="223.7" r="2.3" fill="#1f66e5"/><circle cx="588.4" cy="195.6" r="2.3" fill="#1f66e5"/><circle cx="592" cy="224" r="2.3" fill="#1f66e5"/><circle cx="592" cy="202" r="2.3" fill="#1f66e5"/><circle cx="595.7" cy="224.3" r="2.3" fill="#1f66e5"/><circle cx="595.7" cy="207.3" r="2.3" fill="#1f66e5"/><circle cx="599.3" cy="224.5" r="2.3" fill="#1f66e5"/><circle cx="599.3" cy="211.6" r="2.3" fill="#1f66e5"/><circle cx="603" cy="224.6" r="2.3" fill="#1f66e5"/><circle cx="603" cy="215.1" r="2.3" fill="#1f66e5"/><circle cx="606.7" cy="224.7" r="2.3" fill="#1f66e5"/><circle cx="606.7" cy="217.9" r="2.3" fill="#1f66e5"/><circle cx="610.3" cy="224.8" r="2.3" fill="#1f66e5"/><circle cx="610.3" cy="220.2" r="2.3" fill="#1f66e5"/><circle cx="614" cy="224.9" r="2.3" fill="#1f66e5"/><circle cx="614" cy="221.9" r="2.3" fill="#1f66e5"/><circle cx="617.6" cy="224.9" r="2.3" fill="#1f66e5"/><circle cx="617.6" cy="223.2" r="2.3" fill="#1f66e5"/><circle cx="621.3" cy="225" r="2.3" fill="#1f66e5"/><circle cx="621.3" cy="224.2" r="2.3" fill="#1f66e5"/><circle cx="624.9" cy="225" r="2.3" fill="#1f66e5"/><circle cx="624.9" cy="224.8" r="2.3" fill="#1f66e5"/><circle cx="628.6" cy="225.1" r="2.3" fill="#1f66e5"/><circle cx="628.6" cy="225.2" r="2.3" fill="#1f66e5"/><circle cx="632.3" cy="225.1" r="2.3" fill="#1f66e5"/><circle cx="632.3" cy="225.4" r="2.3" fill="#1f66e5"/><circle cx="635.9" cy="225.2" r="2.3" fill="#1f66e5"/><circle cx="635.9" cy="225.4" r="2.3" fill="#1f66e5"/><circle cx="639.6" cy="225.3" r="2.3" fill="#1f66e5"/><circle cx="639.6" cy="225.2" r="2.3" fill="#1f66e5"/><circle cx="643.2" cy="225.4" r="2.3" fill="#1f66e5"/><circle cx="643.2" cy="225" r="2.3" fill="#1f66e5"/><polyline points="387.3,99.5 388.2,100.3 389,101.2 389.9,102 390.7,102.8 391.6,103.7 392.4,104.5 393.3,105.3 394.1,106.2 395,107 395.9,107.9 396.7,108.7 397.6,109.5 398.4,110.4 399.3,111.2 400.1,112.1 401,112.9 401.9,113.7 402.7,114.6 403.6,115.4 404.4,116.3 405.3,117.1 406.1,118 407,118.8 407.8,119.6 408.7,120.5 409.6,121.3 410.4,122.2 411.3,123 412.1,123.9 413,124.7 413.8,125.6 414.7,126.4 415.5,127.3 416.4,128.1 417.3,128.9 418.1,129.8 419,130.6 419.8,131.5 420.7,132.3 421.5,133.2 422.4,134 423.2,134.9 424.1,135.7 425,136.6 425.8,137.4 426.7,138.3 427.5,139.1 428.4,140 429.2,140.8 430.1,141.7 431,142.5 431.8,143.4 432.7,144.2 433.5,145.1 434.4,145.9 435.2,146.8 436.1,147.6 436.9,148.5 437.8,149.3 438.7,150.2 439.5,151 440.4,151.9 441.2,152.7 442.1,153.6 442.9,154.4 443.8,155.3 444.6,156.1 445.5,157 446.4,157.8 447.2,158.7 448.1,159.6 448.9,160.4 449.8,161.3 450.6,162.1 451.5,163 452.3,163.8 453.2,164.7 454.1,165.5 454.9,166.4 455.8,167.2 456.6,168.1 457.5,168.9 458.3,169.8 459.2,170.6 460.1,171.5 460.9,172.3 461.8,173.2 462.6,174 463.5,174.9 464.3,175.7 465.2,176.6 466,177.4 466.9,178.3 467.8,179.1 468.6,180 469.5,180.8 470.3,181.6 471.2,182.5 472,183.3 472.9,184.2 473.7,185 474.6,185.8 475.5,186.7 476.3,187.5 477.2,188.3 478,189.2 478.9,190 479.7,190.8 480.6,191.6 481.5,192.5 482.3,193.3 483.2,194.1 484,194.9 484.9,195.7 485.7,196.5 486.6,197.3 487.4,198.1 488.3,198.9 489.2,199.6 490,200.4 490.9,201.2 491.7,201.9 492.6,202.7 493.4,203.4 494.3,204.1 495.1,204.9 496,205.6 496.9,206.3 497.7,207 498.6,207.6 499.4,208.3 500.3,209 501.1,209.6 502,210.2 502.8,210.8 503.7,211.4 504.6,212 505.4,212.5 506.3,213.1 507.1,213.6 508,214.1 508.8,214.6 509.7,215 510.6,215.5 511.4,215.9 512.3,216.3 513.1,216.7 514,217.1 514.8,217.4 515.7,217.8 516.5,218.1 517.4,218.4 518.3,218.7 519.1,218.9 520,219.2 520.8,219.4 521.7,219.6 522.5,219.9 523.4,220 524.2,220.2 525.1,220.4 526,220.5 526.8,220.7 527.7,220.8 528.5,221 529.4,221.1 530.2,221.2 531.1,221.3 532,221.4 532.8,221.5 533.7,221.5 534.5,221.6 535.4,221.7 536.2,221.7 537.1,221.8 537.9,221.9 538.8,221.9 539.7,221.9 540.5,222 541.4,222 542.2,222.1 543.1,222.1 543.9,222.1 544.8,222.2 545.6,222.2 546.5,222.2 547.4,222.3 548.2,222.3 549.1,222.3 549.9,222.4 550.8,222.4 551.6,222.4 552.5,222.5 553.3,222.5 554.2,222.5 555.1,222.5 555.9,222.6 556.8,222.6 557.6,222.6 558.5,222.7 559.3,222.7 560.2,222.7 561.1,222.7 561.9,222.8 562.8,222.8 563.6,222.8 564.5,222.9 565.3,222.9 566.2,222.9 567,222.9 567.9,223 568.8,223 569.6,223 570.5,223 571.3,223.1 572.2,223.1 573,223.1 573.9,223.1 574.7,223.2 575.6,223.2 576.5,223.2 577.3,223.2 578.2,223.2 579,223.3 579.9,223.3 580.7,223.3 581.6,223.3 582.4,223.3 583.3,223.3 584.2,223.3 585,223.3 585.9,223.4 586.7,223.4 587.6,223.4 588.4,223.4 589.3,223.4 590.2,223.4 591,223.4 591.9,223.4 592.7,223.4 593.6,223.4 594.4,223.4 595.3,223.4 596.1,223.5 597,223.5 597.9,223.5 598.7,223.5 599.6,223.5 600.4,223.5 601.3,223.5 602.1,223.5 603,223.5 603.8,223.5 604.7,223.5 605.6,223.5 606.4,223.5 607.3,223.5 608.1,223.5 609,223.5 609.8,223.5 610.7,223.5 611.6,223.5 612.4,223.5 613.3,223.5 614.1,223.5 615,223.5 615.8,223.5 616.7,223.5 617.5,223.5 618.4,223.5 619.3,223.5 620.1,223.5 621,223.5 621.8,223.5 622.7,223.5 623.5,223.5 624.4,223.5 625.2,223.5 626.1,223.5 627,223.5 627.8,223.5 628.7,223.5 629.5,223.5 630.4,223.5 631.2,223.5 632.1,223.5 632.9,223.5 633.8,223.5 634.7,223.5 635.5,223.5 636.4,223.5 637.2,223.5 638.1,223.5 638.9,223.5 639.8,223.5 640.7,223.5 641.5,223.5 642.4,223.5 643.2,223.5" fill="none" stroke="#000" stroke-width="1.4"/><polyline points="387.3,57.7 388.2,57.4 389,57.2 389.9,56.9 390.7,56.7 391.6,56.5 392.4,56.3 393.3,56.1 394.1,55.9 395,55.7 395.9,55.5 396.7,55.4 397.6,55.2 398.4,55 399.3,54.9 400.1,54.7 401,54.6 401.9,54.5 402.7,54.3 403.6,54.2 404.4,54.1 405.3,54 406.1,53.8 407,53.7 407.8,53.6 408.7,53.5 409.6,53.4 410.4,53.4 411.3,53.3 412.1,53.2 413,53.1 413.8,53 414.7,53 415.5,52.9 416.4,52.8 417.3,52.8 418.1,52.7 419,52.7 419.8,52.6 420.7,52.6 421.5,52.5 422.4,52.5 423.2,52.5 424.1,52.4 425,52.4 425.8,52.4 426.7,52.3 427.5,52.3 428.4,52.3 429.2,52.3 430.1,52.3 431,52.3 431.8,52.3 432.7,52.3 433.5,52.3 434.4,52.3 435.2,52.3 436.1,52.4 436.9,52.4 437.8,52.4 438.7,52.5 439.5,52.5 440.4,52.6 441.2,52.6 442.1,52.7 442.9,52.7 443.8,52.8 444.6,52.9 445.5,53 446.4,53.1 447.2,53.2 448.1,53.3 448.9,53.4 449.8,53.6 450.6,53.7 451.5,53.9 452.3,54 453.2,54.2 454.1,54.4 454.9,54.6 455.8,54.8 456.6,55 457.5,55.2 458.3,55.5 459.2,55.7 460.1,56 460.9,56.3 461.8,56.6 462.6,57 463.5,57.3 464.3,57.7 465.2,58.1 466,58.5 466.9,58.9 467.8,59.4 468.6,59.9 469.5,60.4 470.3,60.9 471.2,61.5 472,62.1 472.9,62.7 473.7,63.4 474.6,64.1 475.5,64.8 476.3,65.6 477.2,66.4 478,67.2 478.9,68.1 479.7,69 480.6,70 481.5,71 482.3,72.1 483.2,73.2 484,74.3 484.9,75.6 485.7,76.8 486.6,78.1 487.4,79.5 488.3,81 489.2,82.5 490,84 490.9,85.7 491.7,87.3 492.6,89.1 493.4,90.9 494.3,92.8 495.1,94.7 496,96.8 496.9,98.8 497.7,101 498.6,103.2 499.4,105.4 500.3,107.8 501.1,110.2 502,112.6 502.8,115.1 503.7,117.6 504.6,120.2 505.4,122.8 506.3,125.5 507.1,128.2 508,130.9 508.8,133.7 509.7,136.4 510.6,139.2 511.4,141.9 512.3,144.7 513.1,147.4 514,150.2 514.8,152.9 515.7,155.6 516.5,158.2 517.4,160.9 518.3,163.4 519.1,166 520,168.5 520.8,170.9 521.7,173.3 522.5,175.6 523.4,177.8 524.2,180 525.1,182.1 526,184.2 526.8,186.2 527.7,188.1 528.5,189.9 529.4,191.7 530.2,193.4 531.1,195.1 532,196.7 532.8,198.2 533.7,199.6 534.5,201 535.4,202.4 536.2,203.6 537.1,204.8 537.9,206 538.8,207.1 539.7,208.1 540.5,209.1 541.4,210.1 542.2,210.9 543.1,211.8 543.9,212.6 544.8,213.3 545.6,214 546.5,214.7 547.4,215.4 548.2,216 549.1,216.5 549.9,217.1 550.8,217.6 551.6,218 552.5,218.5 553.3,218.9 554.2,219.3 555.1,219.7 555.9,220.1 556.8,220.4 557.6,220.8 558.5,221.1 559.3,221.4 560.2,221.7 561.1,222 561.9,222.3 562.8,222.5 563.6,222.8 564.5,223 565.3,223.3 566.2,223.6 567,223.8 567.9,224 568.8,224.3 569.6,224.5 570.5,224.7 571.3,225 572.2,225.2 573,225.4 573.9,225.6 574.7,225.8 575.6,226 576.5,226.2 577.3,226.4 578.2,226.6 579,226.8 579.9,227 580.7,227.1 581.6,227.3 582.4,227.5 583.3,227.6 584.2,227.8 585,228 585.9,228.1 586.7,228.2 587.6,228.4 588.4,228.5 589.3,228.6 590.2,228.8 591,228.9 591.9,229 592.7,229.1 593.6,229.2 594.4,229.3 595.3,229.4 596.1,229.5 597,229.6 597.9,229.7 598.7,229.8 599.6,229.9 600.4,229.9 601.3,230 602.1,230.1 603,230.2 603.8,230.2 604.7,230.3 605.6,230.3 606.4,230.4 607.3,230.5 608.1,230.5 609,230.6 609.8,230.6 610.7,230.7 611.6,230.7 612.4,230.8 613.3,230.8 614.1,230.8 615,230.9 615.8,230.9 616.7,230.9 617.5,231 618.4,231 619.3,231 620.1,231.1 621,231.1 621.8,231.1 622.7,231.1 623.5,231.2 624.4,231.2 625.2,231.2 626.1,231.2 627,231.3 627.8,231.3 628.7,231.3 629.5,231.3 630.4,231.3 631.2,231.3 632.1,231.4 632.9,231.4 633.8,231.4 634.7,231.4 635.5,231.4 636.4,231.4 637.2,231.4 638.1,231.5 638.9,231.5 639.8,231.5 640.7,231.5 641.5,231.5 642.4,231.5 643.2,231.5" fill="none" stroke="#000" stroke-width="1.4"/><polyline points="387.3,114.2 388.2,114.6 389,115 389.9,115.4 390.7,115.8 391.6,116.2 392.4,116.6 393.3,117 394.1,117.4 395,117.8 395.9,118.3 396.7,118.7 397.6,119.1 398.4,119.6 399.3,120 400.1,120.5 401,120.9 401.9,121.3 402.7,121.8 403.6,122.2 404.4,122.7 405.3,123.1 406.1,123.5 407,124 407.8,124.4 408.7,124.9 409.6,125.3 410.4,125.7 411.3,126.2 412.1,126.6 413,127 413.8,127.4 414.7,127.8 415.5,128.3 416.4,128.7 417.3,129.1 418.1,129.5 419,129.9 419.8,130.2 420.7,130.6 421.5,131 422.4,131.4 423.2,131.8 424.1,132.1 425,132.5 425.8,132.9 426.7,133.2 427.5,133.6 428.4,133.9 429.2,134.3 430.1,134.6 431,135 431.8,135.3 432.7,135.7 433.5,136 434.4,136.4 435.2,136.7 436.1,137.1 436.9,137.4 437.8,137.8 438.7,138.1 439.5,138.5 440.4,138.9 441.2,139.2 442.1,139.6 442.9,140 443.8,140.4 444.6,140.8 445.5,141.2 446.4,141.6 447.2,142 448.1,142.5 448.9,142.9 449.8,143.4 450.6,143.9 451.5,144.3 452.3,144.8 453.2,145.3 454.1,145.9 454.9,146.4 455.8,146.9 456.6,147.5 457.5,148.1 458.3,148.7 459.2,149.3 460.1,149.9 460.9,150.5 461.8,151.1 462.6,151.8 463.5,152.4 464.3,153.1 465.2,153.8 466,154.5 466.9,155.2 467.8,155.9 468.6,156.6 469.5,157.3 470.3,158 471.2,158.8 472,159.5 472.9,160.3 473.7,161 474.6,161.8 475.5,162.6 476.3,163.4 477.2,164.2 478,165 478.9,165.7 479.7,166.5 480.6,167.4 481.5,168.2 482.3,169 483.2,169.8 484,170.6 484.9,171.4 485.7,172.3 486.6,173.1 487.4,173.9 488.3,174.7 489.2,175.6 490,176.4 490.9,177.2 491.7,178.1 492.6,178.9 493.4,179.8 494.3,180.6 495.1,181.4 496,182.3 496.9,183.1 497.7,184 498.6,184.8 499.4,185.7 500.3,186.5 501.1,187.4 502,188.2 502.8,189 503.7,189.9 504.6,190.7 505.4,191.6 506.3,192.4 507.1,193.3 508,194.1 508.8,195 509.7,195.8 510.6,196.7 511.4,197.5 512.3,198.3 513.1,199.2 514,200 514.8,200.9 515.7,201.7 516.5,202.5 517.4,203.4 518.3,204.2 519.1,205 520,205.9 520.8,206.7 521.7,207.5 522.5,208.3 523.4,209.2 524.2,210 525.1,210.8 526,211.6 526.8,212.4 527.7,213.2 528.5,214 529.4,214.8 530.2,215.6 531.1,216.4 532,217.2 532.8,217.9 533.7,218.7 534.5,219.5 535.4,220.2 536.2,220.9 537.1,221.7 537.9,222.4 538.8,223.1 539.7,223.8 540.5,224.5 541.4,225.2 542.2,225.9 543.1,226.5 543.9,227.2 544.8,227.8 545.6,228.4 546.5,229 547.4,229.6 548.2,230.2 549.1,230.7 549.9,231.3 550.8,231.8 551.6,232.3 552.5,232.8 553.3,233.3 554.2,233.7 555.1,234.2 555.9,234.6 556.8,235 557.6,235.3 558.5,235.7 559.3,236.1 560.2,236.4 561.1,236.7 561.9,237 562.8,237.3 563.6,237.5 564.5,237.8 565.3,238 566.2,238.3 567,238.5 567.9,238.7 568.8,238.8 569.6,239 570.5,239.2 571.3,239.3 572.2,239.5 573,239.6 573.9,239.7 574.7,239.9 575.6,240 576.5,240.1 577.3,240.2 578.2,240.3 579,240.3 579.9,240.4 580.7,240.5 581.6,240.6 582.4,240.6 583.3,240.7 584.2,240.7 585,240.8 585.9,240.8 586.7,240.9 587.6,240.9 588.4,241 589.3,241 590.2,241 591,241.1 591.9,241.1 592.7,241.1 593.6,241.1 594.4,241.2 595.3,241.2 596.1,241.2 597,241.2 597.9,241.3 598.7,241.3 599.6,241.3 600.4,241.3 601.3,241.3 602.1,241.3 603,241.4 603.8,241.4 604.7,241.4 605.6,241.4 606.4,241.4 607.3,241.4 608.1,241.4 609,241.4 609.8,241.4 610.7,241.4 611.6,241.5 612.4,241.5 613.3,241.5 614.1,241.5 615,241.5 615.8,241.5 616.7,241.5 617.5,241.5 618.4,241.5 619.3,241.5 620.1,241.5 621,241.5 621.8,241.5 622.7,241.5 623.5,241.5 624.4,241.5 625.2,241.5 626.1,241.5 627,241.5 627.8,241.5 628.7,241.5 629.5,241.5 630.4,241.5 631.2,241.5 632.1,241.5 632.9,241.5 633.8,241.6 634.7,241.6 635.5,241.6 636.4,241.6 637.2,241.6 638.1,241.6 638.9,241.6 639.8,241.6 640.7,241.6 641.5,241.6 642.4,241.6 643.2,241.6" fill="none" stroke="#000" stroke-width="1.4"/><polyline points="387.3,159.3 388.2,158.2 389,157.2 389.9,156.3 390.7,155.4 391.6,154.5 392.4,153.7 393.3,152.9 394.1,152.1 395,151.4 395.9,150.7 396.7,150.1 397.6,149.5 398.4,149 399.3,148.5 400.1,148 401,147.6 401.9,147.2 402.7,146.9 403.6,146.6 404.4,146.4 405.3,146.2 406.1,146 407,145.8 407.8,145.7 408.7,145.7 409.6,145.6 410.4,145.6 411.3,145.6 412.1,145.7 413,145.7 413.8,145.8 414.7,145.9 415.5,145.9 416.4,146 417.3,146.1 418.1,146.2 419,146.3 419.8,146.4 420.7,146.5 421.5,146.6 422.4,146.7 423.2,146.7 424.1,146.7 425,146.7 425.8,146.7 426.7,146.6 427.5,146.5 428.4,146.3 429.2,146.1 430.1,145.9 431,145.6 431.8,145.2 432.7,144.8 433.5,144.4 434.4,143.8 435.2,143.3 436.1,142.6 436.9,141.9 437.8,141.1 438.7,140.3 439.5,139.4 440.4,138.5 441.2,137.4 442.1,136.3 442.9,135.2 443.8,134 444.6,132.7 445.5,131.4 446.4,130 447.2,128.6 448.1,127.1 448.9,125.5 449.8,124 450.6,122.3 451.5,120.7 452.3,119 453.2,117.3 454.1,115.6 454.9,113.9 455.8,112.1 456.6,110.3 457.5,108.6 458.3,106.8 459.2,105.1 460.1,103.3 460.9,101.6 461.8,99.9 462.6,98.2 463.5,96.5 464.3,94.9 465.2,93.3 466,91.7 466.9,90.1 467.8,88.6 468.6,87.2 469.5,85.7 470.3,84.3 471.2,83 472,81.7 472.9,80.4 473.7,79.2 474.6,78 475.5,76.9 476.3,75.8 477.2,74.8 478,73.7 478.9,72.8 479.7,71.9 480.6,71 481.5,70.1 482.3,69.3 483.2,68.6 484,67.9 484.9,67.2 485.7,66.6 486.6,65.9 487.4,65.4 488.3,64.8 489.2,64.3 490,63.9 490.9,63.5 491.7,63.1 492.6,62.7 493.4,62.4 494.3,62.1 495.1,61.8 496,61.6 496.9,61.4 497.7,61.2 498.6,61 499.4,60.9 500.3,60.8 501.1,60.8 502,60.8 502.8,60.8 503.7,60.8 504.6,60.9 505.4,61 506.3,61.1 507.1,61.2 508,61.4 508.8,61.6 509.7,61.9 510.6,62.2 511.4,62.5 512.3,62.8 513.1,63.2 514,63.6 514.8,64.1 515.7,64.6 516.5,65.1 517.4,65.7 518.3,66.3 519.1,66.9 520,67.6 520.8,68.3 521.7,69.1 522.5,69.9 523.4,70.8 524.2,71.7 525.1,72.7 526,73.7 526.8,74.7 527.7,75.9 528.5,77 529.4,78.2 530.2,79.5 531.1,80.9 532,82.2 532.8,83.7 533.7,85.2 534.5,86.8 535.4,88.4 536.2,90.1 537.1,91.9 537.9,93.7 538.8,95.6 539.7,97.5 540.5,99.5 541.4,101.6 542.2,103.7 543.1,105.9 543.9,108.2 544.8,110.5 545.6,112.8 546.5,115.2 547.4,117.7 548.2,120.1 549.1,122.7 549.9,125.2 550.8,127.8 551.6,130.4 552.5,133.1 553.3,135.7 554.2,138.3 555.1,141 555.9,143.7 556.8,146.3 557.6,148.9 558.5,151.6 559.3,154.2 560.2,156.7 561.1,159.3 561.9,161.8 562.8,164.2 563.6,166.7 564.5,169 565.3,171.4 566.2,173.6 567,175.8 567.9,178 568.8,180.1 569.6,182.2 570.5,184.2 571.3,186.1 572.2,187.9 573,189.8 573.9,191.5 574.7,193.2 575.6,194.8 576.5,196.4 577.3,197.9 578.2,199.4 579,200.8 579.9,202.1 580.7,203.4 581.6,204.7 582.4,205.9 583.3,207 584.2,208.1 585,209.2 585.9,210.2 586.7,211.1 587.6,212.1 588.4,213 589.3,213.8 590.2,214.6 591,215.4 591.9,216.1 592.7,216.9 593.6,217.5 594.4,218.2 595.3,218.8 596.1,219.4 597,220 597.9,220.5 598.7,221 599.6,221.5 600.4,222 601.3,222.4 602.1,222.9 603,223.3 603.8,223.7 604.7,224 605.6,224.4 606.4,224.7 607.3,225.1 608.1,225.4 609,225.7 609.8,225.9 610.7,226.2 611.6,226.5 612.4,226.7 613.3,226.9 614.1,227.2 615,227.4 615.8,227.6 616.7,227.8 617.5,228 618.4,228.1 619.3,228.3 620.1,228.5 621,228.6 621.8,228.8 622.7,228.9 623.5,229 624.4,229.1 625.2,229.3 626.1,229.4 627,229.5 627.8,229.6 628.7,229.7 629.5,229.8 630.4,229.9 631.2,230 632.1,230 632.9,230.1 633.8,230.2 634.7,230.3 635.5,230.3 636.4,230.4 637.2,230.5 638.1,230.5 638.9,230.6 639.8,230.6 640.7,230.7 641.5,230.7 642.4,230.8 643.2,230.8" fill="none" stroke="#000" stroke-width="1.4"/><polyline points="387.3,37.4 388.2,38.3 389,39.2 389.9,40 390.7,40.9 391.6,41.8 392.4,42.7 393.3,43.6 394.1,44.5 395,45.4 395.9,46.2 396.7,47.1 397.6,48 398.4,48.9 399.3,49.8 400.1,50.7 401,51.6 401.9,52.5 402.7,53.4 403.6,54.2 404.4,55.1 405.3,56 406.1,56.9 407,57.8 407.8,58.7 408.7,59.6 409.6,60.5 410.4,61.4 411.3,62.2 412.1,63.1 413,64 413.8,64.9 414.7,65.8 415.5,66.7 416.4,67.6 417.3,68.5 418.1,69.4 419,70.3 419.8,71.1 420.7,72 421.5,72.9 422.4,73.8 423.2,74.7 424.1,75.6 425,76.5 425.8,77.4 426.7,78.3 427.5,79.2 428.4,80.1 429.2,80.9 430.1,81.8 431,82.7 431.8,83.6 432.7,84.5 433.5,85.4 434.4,86.3 435.2,87.2 436.1,88.1 436.9,89 437.8,89.9 438.7,90.7 439.5,91.6 440.4,92.5 441.2,93.4 442.1,94.3 442.9,95.2 443.8,96.1 444.6,97 445.5,97.9 446.4,98.8 447.2,99.7 448.1,100.6 448.9,101.4 449.8,102.3 450.6,103.2 451.5,104.1 452.3,105 453.2,105.9 454.1,106.8 454.9,107.7 455.8,108.6 456.6,109.5 457.5,110.4 458.3,111.3 459.2,112.2 460.1,113 460.9,113.9 461.8,114.8 462.6,115.7 463.5,116.6 464.3,117.5 465.2,118.4 466,119.3 466.9,120.2 467.8,121.1 468.6,122 469.5,122.9 470.3,123.8 471.2,124.6 472,125.5 472.9,126.4 473.7,127.3 474.6,128.2 475.5,129.1 476.3,130 477.2,130.9 478,131.8 478.9,132.7 479.7,133.6 480.6,134.5 481.5,135.4 482.3,136.2 483.2,137.1 484,138 484.9,138.9 485.7,139.8 486.6,140.7 487.4,141.6 488.3,142.5 489.2,143.4 490,144.3 490.9,145.2 491.7,146.1 492.6,147 493.4,147.8 494.3,148.7 495.1,149.6 496,150.5 496.9,151.4 497.7,152.3 498.6,153.2 499.4,154.1 500.3,155 501.1,155.9 502,156.8 502.8,157.7 503.7,158.5 504.6,159.4 505.4,160.3 506.3,161.2 507.1,162.1 508,163 508.8,163.9 509.7,164.8 510.6,165.7 511.4,166.6 512.3,167.4 513.1,168.3 514,169.2 514.8,170.1 515.7,171 516.5,171.9 517.4,172.8 518.3,173.7 519.1,174.5 520,175.4 520.8,176.3 521.7,177.2 522.5,178.1 523.4,179 524.2,179.8 525.1,180.7 526,181.6 526.8,182.5 527.7,183.3 528.5,184.2 529.4,185.1 530.2,186 531.1,186.8 532,187.7 532.8,188.6 533.7,189.4 534.5,190.3 535.4,191.2 536.2,192 537.1,192.9 537.9,193.7 538.8,194.6 539.7,195.4 540.5,196.2 541.4,197.1 542.2,197.9 543.1,198.7 543.9,199.6 544.8,200.4 545.6,201.2 546.5,202 547.4,202.8 548.2,203.6 549.1,204.3 549.9,205.1 550.8,205.9 551.6,206.6 552.5,207.4 553.3,208.1 554.2,208.8 555.1,209.5 555.9,210.2 556.8,210.9 557.6,211.5 558.5,212.2 559.3,212.8 560.2,213.4 561.1,214 561.9,214.6 562.8,215.2 563.6,215.7 564.5,216.2 565.3,216.7 566.2,217.2 567,217.7 567.9,218.1 568.8,218.5 569.6,218.9 570.5,219.3 571.3,219.7 572.2,220 573,220.3 573.9,220.6 574.7,220.9 575.6,221.2 576.5,221.5 577.3,221.7 578.2,221.9 579,222.1 579.9,222.3 580.7,222.5 581.6,222.7 582.4,222.9 583.3,223 584.2,223.2 585,223.3 585.9,223.4 586.7,223.5 587.6,223.6 588.4,223.7 589.3,223.8 590.2,223.9 591,224 591.9,224 592.7,224.1 593.6,224.2 594.4,224.2 595.3,224.3 596.1,224.3 597,224.4 597.9,224.4 598.7,224.4 599.6,224.5 600.4,224.5 601.3,224.6 602.1,224.6 603,224.6 603.8,224.6 604.7,224.7 605.6,224.7 606.4,224.7 607.3,224.7 608.1,224.7 609,224.8 609.8,224.8 610.7,224.8 611.6,224.8 612.4,224.8 613.3,224.8 614.1,224.9 615,224.9 615.8,224.9 616.7,224.9 617.5,224.9 618.4,224.9 619.3,224.9 620.1,224.9 621,225 621.8,225 622.7,225 623.5,225 624.4,225 625.2,225 626.1,225 627,225 627.8,225 628.7,225.1 629.5,225.1 630.4,225.1 631.2,225.1 632.1,225.1 632.9,225.1 633.8,225.2 634.7,225.2 635.5,225.2 636.4,225.2 637.2,225.2 638.1,225.3 638.9,225.3 639.8,225.3 640.7,225.3 641.5,225.4 642.4,225.4 643.2,225.4" fill="none" stroke="#000" stroke-width="1.4"/><polyline points="387.3,45.7 388.2,45.5 389,45.4 389.9,45.2 390.7,45.1 391.6,45 392.4,44.9 393.3,44.7 394.1,44.6 395,44.5 395.9,44.4 396.7,44.3 397.6,44.2 398.4,44.1 399.3,44.1 400.1,44 401,43.9 401.9,43.8 402.7,43.7 403.6,43.7 404.4,43.6 405.3,43.6 406.1,43.5 407,43.4 407.8,43.4 408.7,43.3 409.6,43.3 410.4,43.2 411.3,43.2 412.1,43.1 413,43.1 413.8,43.1 414.7,43 415.5,43 416.4,42.9 417.3,42.9 418.1,42.9 419,42.8 419.8,42.8 420.7,42.8 421.5,42.8 422.4,42.7 423.2,42.7 424.1,42.7 425,42.7 425.8,42.6 426.7,42.6 427.5,42.6 428.4,42.6 429.2,42.5 430.1,42.5 431,42.5 431.8,42.5 432.7,42.5 433.5,42.5 434.4,42.4 435.2,42.4 436.1,42.4 436.9,42.4 437.8,42.4 438.7,42.4 439.5,42.4 440.4,42.4 441.2,42.4 442.1,42.3 442.9,42.3 443.8,42.3 444.6,42.3 445.5,42.3 446.4,42.3 447.2,42.3 448.1,42.3 448.9,42.3 449.8,42.3 450.6,42.3 451.5,42.3 452.3,42.3 453.2,42.3 454.1,42.3 454.9,42.3 455.8,42.3 456.6,42.3 457.5,42.3 458.3,42.3 459.2,42.3 460.1,42.3 460.9,42.3 461.8,42.3 462.6,42.3 463.5,42.3 464.3,42.3 465.2,42.3 466,42.3 466.9,42.3 467.8,42.3 468.6,42.4 469.5,42.4 470.3,42.4 471.2,42.4 472,42.4 472.9,42.4 473.7,42.5 474.6,42.5 475.5,42.5 476.3,42.5 477.2,42.5 478,42.6 478.9,42.6 479.7,42.6 480.6,42.7 481.5,42.7 482.3,42.7 483.2,42.8 484,42.8 484.9,42.9 485.7,42.9 486.6,43 487.4,43 488.3,43.1 489.2,43.2 490,43.2 490.9,43.3 491.7,43.4 492.6,43.4 493.4,43.5 494.3,43.6 495.1,43.7 496,43.8 496.9,43.9 497.7,44 498.6,44.1 499.4,44.2 500.3,44.3 501.1,44.5 502,44.6 502.8,44.7 503.7,44.9 504.6,45.1 505.4,45.2 506.3,45.4 507.1,45.6 508,45.8 508.8,46 509.7,46.2 510.6,46.4 511.4,46.7 512.3,46.9 513.1,47.2 514,47.4 514.8,47.7 515.7,48 516.5,48.4 517.4,48.7 518.3,49.1 519.1,49.4 520,49.8 520.8,50.2 521.7,50.7 522.5,51.1 523.4,51.6 524.2,52.1 525.1,52.6 526,53.2 526.8,53.8 527.7,54.4 528.5,55 529.4,55.7 530.2,56.4 531.1,57.1 532,57.9 532.8,58.7 533.7,59.6 534.5,60.5 535.4,61.4 536.2,62.4 537.1,63.4 537.9,64.4 538.8,65.6 539.7,66.7 540.5,68 541.4,69.2 542.2,70.6 543.1,71.9 543.9,73.4 544.8,74.9 545.6,76.5 546.5,78.1 547.4,79.8 548.2,81.6 549.1,83.4 549.9,85.3 550.8,87.3 551.6,89.3 552.5,91.4 553.3,93.6 554.2,95.9 555.1,98.2 555.9,100.5 556.8,103 557.6,105.5 558.5,108 559.3,110.7 560.2,113.3 561.1,116 561.9,118.8 562.8,121.6 563.6,124.4 564.5,127.2 565.3,130.1 566.2,133 567,135.9 567.9,138.8 568.8,141.6 569.6,144.5 570.5,147.4 571.3,150.2 572.2,153 573,155.8 573.9,158.5 574.7,161.2 575.6,163.8 576.5,166.4 577.3,168.9 578.2,171.4 579,173.8 579.9,176.1 580.7,178.4 581.6,180.6 582.4,182.7 583.3,184.8 584.2,186.8 585,188.7 585.9,190.6 586.7,192.3 587.6,194.1 588.4,195.7 589.3,197.3 590.2,198.8 591,200.3 591.9,201.7 592.7,203 593.6,204.3 594.4,205.5 595.3,206.7 596.1,207.8 597,208.9 597.9,209.9 598.7,210.9 599.6,211.8 600.4,212.7 601.3,213.5 602.1,214.3 603,215.1 603.8,215.8 604.7,216.5 605.6,217.1 606.4,217.8 607.3,218.3 608.1,218.9 609,219.4 609.8,219.9 610.7,220.4 611.6,220.8 612.4,221.2 613.3,221.6 614.1,222 615,222.3 615.8,222.6 616.7,222.9 617.5,223.2 618.4,223.5 619.3,223.7 620.1,223.9 621,224.1 621.8,224.3 622.7,224.5 623.5,224.6 624.4,224.8 625.2,224.9 626.1,225 627,225.1 627.8,225.2 628.7,225.2 629.5,225.3 630.4,225.3 631.2,225.4 632.1,225.4 632.9,225.4 633.8,225.4 634.7,225.4 635.5,225.4 636.4,225.4 637.2,225.4 638.1,225.3 638.9,225.3 639.8,225.2 640.7,225.2 641.5,225.1 642.4,225.1 643.2,225" fill="none" stroke="#000" stroke-width="1.4"/></g><rect x="387.1" y="24.9" width="257.3" height="207.1" fill="none" stroke="#000" stroke-width="1.75"/><line x1="387.3" y1="232" x2="387.3" y2="227.8" stroke="#000" stroke-width="1.4"/><line x1="398.3" y1="232" x2="398.3" y2="229.6" stroke="#000" stroke-width="1.2"/><line x1="404.7" y1="232" x2="404.7" y2="229.6" stroke="#000" stroke-width="1.2"/><line x1="409.3" y1="232" x2="409.3" y2="229.6" stroke="#000" stroke-width="1.2"/><line x1="412.9" y1="232" x2="412.9" y2="229.6" stroke="#000" stroke-width="1.2"/><line x1="415.7" y1="232" x2="415.7" y2="229.6" stroke="#000" stroke-width="1.2"/><line x1="418.2" y1="232" x2="418.2" y2="229.6" stroke="#000" stroke-width="1.2"/><line x1="420.3" y1="232" x2="420.3" y2="229.6" stroke="#000" stroke-width="1.2"/><line x1="422.2" y1="232" x2="422.2" y2="229.6" stroke="#000" stroke-width="1.2"/><text x="386.8" y="249.3" font-size="13.5" text-anchor="middle" >10<tspan font-size="9.2" dy="-5.7">−2</tspan></text><line x1="423.9" y1="232" x2="423.9" y2="227.8" stroke="#000" stroke-width="1.4"/><line x1="434.9" y1="232" x2="434.9" y2="229.6" stroke="#000" stroke-width="1.2"/><line x1="441.3" y1="232" x2="441.3" y2="229.6" stroke="#000" stroke-width="1.2"/><line x1="445.9" y1="232" x2="445.9" y2="229.6" stroke="#000" stroke-width="1.2"/><line x1="449.4" y1="232" x2="449.4" y2="229.6" stroke="#000" stroke-width="1.2"/><line x1="452.3" y1="232" x2="452.3" y2="229.6" stroke="#000" stroke-width="1.2"/><line x1="454.8" y1="232" x2="454.8" y2="229.6" stroke="#000" stroke-width="1.2"/><line x1="456.9" y1="232" x2="456.9" y2="229.6" stroke="#000" stroke-width="1.2"/><line x1="458.7" y1="232" x2="458.7" y2="229.6" stroke="#000" stroke-width="1.2"/><text x="423.4" y="249.3" font-size="13.5" text-anchor="middle" >10<tspan font-size="9.2" dy="-5.7">−1</tspan></text><line x1="460.4" y1="232" x2="460.4" y2="227.8" stroke="#000" stroke-width="1.4"/><line x1="471.4" y1="232" x2="471.4" y2="229.6" stroke="#000" stroke-width="1.2"/><line x1="477.9" y1="232" x2="477.9" y2="229.6" stroke="#000" stroke-width="1.2"/><line x1="482.4" y1="232" x2="482.4" y2="229.6" stroke="#000" stroke-width="1.2"/><line x1="486" y1="232" x2="486" y2="229.6" stroke="#000" stroke-width="1.2"/><line x1="488.9" y1="232" x2="488.9" y2="229.6" stroke="#000" stroke-width="1.2"/><line x1="491.3" y1="232" x2="491.3" y2="229.6" stroke="#000" stroke-width="1.2"/><line x1="493.4" y1="232" x2="493.4" y2="229.6" stroke="#000" stroke-width="1.2"/><line x1="495.3" y1="232" x2="495.3" y2="229.6" stroke="#000" stroke-width="1.2"/><text x="459.9" y="249.3" font-size="13.5" text-anchor="middle" >10<tspan font-size="9.2" dy="-5.7">0</tspan></text><line x1="497" y1="232" x2="497" y2="227.8" stroke="#000" stroke-width="1.4"/><line x1="508" y1="232" x2="508" y2="229.6" stroke="#000" stroke-width="1.2"/><line x1="514.4" y1="232" x2="514.4" y2="229.6" stroke="#000" stroke-width="1.2"/><line x1="519" y1="232" x2="519" y2="229.6" stroke="#000" stroke-width="1.2"/><line x1="522.5" y1="232" x2="522.5" y2="229.6" stroke="#000" stroke-width="1.2"/><line x1="525.4" y1="232" x2="525.4" y2="229.6" stroke="#000" stroke-width="1.2"/><line x1="527.9" y1="232" x2="527.9" y2="229.6" stroke="#000" stroke-width="1.2"/><line x1="530" y1="232" x2="530" y2="229.6" stroke="#000" stroke-width="1.2"/><line x1="531.9" y1="232" x2="531.9" y2="229.6" stroke="#000" stroke-width="1.2"/><text x="496.5" y="249.3" font-size="13.5" text-anchor="middle" >10<tspan font-size="9.2" dy="-5.7">1</tspan></text><line x1="533.5" y1="232" x2="533.5" y2="227.8" stroke="#000" stroke-width="1.4"/><line x1="544.5" y1="232" x2="544.5" y2="229.6" stroke="#000" stroke-width="1.2"/><line x1="551" y1="232" x2="551" y2="229.6" stroke="#000" stroke-width="1.2"/><line x1="555.6" y1="232" x2="555.6" y2="229.6" stroke="#000" stroke-width="1.2"/><line x1="559.1" y1="232" x2="559.1" y2="229.6" stroke="#000" stroke-width="1.2"/><line x1="562" y1="232" x2="562" y2="229.6" stroke="#000" stroke-width="1.2"/><line x1="564.4" y1="232" x2="564.4" y2="229.6" stroke="#000" stroke-width="1.2"/><line x1="566.6" y1="232" x2="566.6" y2="229.6" stroke="#000" stroke-width="1.2"/><line x1="568.4" y1="232" x2="568.4" y2="229.6" stroke="#000" stroke-width="1.2"/><text x="533" y="249.3" font-size="13.5" text-anchor="middle" >10<tspan font-size="9.2" dy="-5.7">2</tspan></text><line x1="570.1" y1="232" x2="570.1" y2="227.8" stroke="#000" stroke-width="1.4"/><line x1="581.1" y1="232" x2="581.1" y2="229.6" stroke="#000" stroke-width="1.2"/><line x1="587.5" y1="232" x2="587.5" y2="229.6" stroke="#000" stroke-width="1.2"/><line x1="592.1" y1="232" x2="592.1" y2="229.6" stroke="#000" stroke-width="1.2"/><line x1="595.7" y1="232" x2="595.7" y2="229.6" stroke="#000" stroke-width="1.2"/><line x1="598.5" y1="232" x2="598.5" y2="229.6" stroke="#000" stroke-width="1.2"/><line x1="601" y1="232" x2="601" y2="229.6" stroke="#000" stroke-width="1.2"/><line x1="603.1" y1="232" x2="603.1" y2="229.6" stroke="#000" stroke-width="1.2"/><line x1="605" y1="232" x2="605" y2="229.6" stroke="#000" stroke-width="1.2"/><text x="569.6" y="249.3" font-size="13.5" text-anchor="middle" >10<tspan font-size="9.2" dy="-5.7">3</tspan></text><line x1="606.7" y1="232" x2="606.7" y2="227.8" stroke="#000" stroke-width="1.4"/><line x1="617.7" y1="232" x2="617.7" y2="229.6" stroke="#000" stroke-width="1.2"/><line x1="624.1" y1="232" x2="624.1" y2="229.6" stroke="#000" stroke-width="1.2"/><line x1="628.7" y1="232" x2="628.7" y2="229.6" stroke="#000" stroke-width="1.2"/><line x1="632.2" y1="232" x2="632.2" y2="229.6" stroke="#000" stroke-width="1.2"/><line x1="635.1" y1="232" x2="635.1" y2="229.6" stroke="#000" stroke-width="1.2"/><line x1="637.6" y1="232" x2="637.6" y2="229.6" stroke="#000" stroke-width="1.2"/><line x1="639.7" y1="232" x2="639.7" y2="229.6" stroke="#000" stroke-width="1.2"/><line x1="641.5" y1="232" x2="641.5" y2="229.6" stroke="#000" stroke-width="1.2"/><text x="606.2" y="249.3" font-size="13.5" text-anchor="middle" >10<tspan font-size="9.2" dy="-5.7">4</tspan></text><line x1="643.2" y1="232" x2="643.2" y2="227.8" stroke="#000" stroke-width="1.4"/><text x="642.7" y="249.3" font-size="13.5" text-anchor="middle" >10<tspan font-size="9.2" dy="-5.7">5</tspan></text><line x1="387" y1="228.8" x2="389.2" y2="228.8" stroke="#000" stroke-width="1.2"/><line x1="387" y1="226" x2="389.2" y2="226" stroke="#000" stroke-width="1.2"/><line x1="387" y1="223.6" x2="389.2" y2="223.6" stroke="#000" stroke-width="1.2"/><line x1="387" y1="221.5" x2="389.2" y2="221.5" stroke="#000" stroke-width="1.2"/><line x1="387" y1="219.6" x2="390.8" y2="219.6" stroke="#000" stroke-width="1.4"/><line x1="387" y1="207.1" x2="389.2" y2="207.1" stroke="#000" stroke-width="1.2"/><line x1="387" y1="199.8" x2="389.2" y2="199.8" stroke="#000" stroke-width="1.2"/><line x1="387" y1="194.6" x2="389.2" y2="194.6" stroke="#000" stroke-width="1.2"/><line x1="387" y1="190.6" x2="389.2" y2="190.6" stroke="#000" stroke-width="1.2"/><line x1="387" y1="187.3" x2="389.2" y2="187.3" stroke="#000" stroke-width="1.2"/><line x1="387" y1="184.5" x2="389.2" y2="184.5" stroke="#000" stroke-width="1.2"/><line x1="387" y1="182.1" x2="389.2" y2="182.1" stroke="#000" stroke-width="1.2"/><line x1="387" y1="180" x2="389.2" y2="180" stroke="#000" stroke-width="1.2"/><line x1="387" y1="178.1" x2="390.8" y2="178.1" stroke="#000" stroke-width="1.4"/><line x1="387" y1="165.6" x2="389.2" y2="165.6" stroke="#000" stroke-width="1.2"/><line x1="387" y1="158.3" x2="389.2" y2="158.3" stroke="#000" stroke-width="1.2"/><line x1="387" y1="153.1" x2="389.2" y2="153.1" stroke="#000" stroke-width="1.2"/><line x1="387" y1="149.1" x2="389.2" y2="149.1" stroke="#000" stroke-width="1.2"/><line x1="387" y1="145.8" x2="389.2" y2="145.8" stroke="#000" stroke-width="1.2"/><line x1="387" y1="143" x2="389.2" y2="143" stroke="#000" stroke-width="1.2"/><line x1="387" y1="140.6" x2="389.2" y2="140.6" stroke="#000" stroke-width="1.2"/><line x1="387" y1="138.5" x2="389.2" y2="138.5" stroke="#000" stroke-width="1.2"/><line x1="387" y1="136.6" x2="390.8" y2="136.6" stroke="#000" stroke-width="1.4"/><line x1="387" y1="124.1" x2="389.2" y2="124.1" stroke="#000" stroke-width="1.2"/><line x1="387" y1="116.8" x2="389.2" y2="116.8" stroke="#000" stroke-width="1.2"/><line x1="387" y1="111.6" x2="389.2" y2="111.6" stroke="#000" stroke-width="1.2"/><line x1="387" y1="107.6" x2="389.2" y2="107.6" stroke="#000" stroke-width="1.2"/><line x1="387" y1="104.3" x2="389.2" y2="104.3" stroke="#000" stroke-width="1.2"/><line x1="387" y1="101.5" x2="389.2" y2="101.5" stroke="#000" stroke-width="1.2"/><line x1="387" y1="99.1" x2="389.2" y2="99.1" stroke="#000" stroke-width="1.2"/><line x1="387" y1="97" x2="389.2" y2="97" stroke="#000" stroke-width="1.2"/><line x1="387" y1="95.1" x2="390.8" y2="95.1" stroke="#000" stroke-width="1.4"/><line x1="387" y1="82.6" x2="389.2" y2="82.6" stroke="#000" stroke-width="1.2"/><line x1="387" y1="75.3" x2="389.2" y2="75.3" stroke="#000" stroke-width="1.2"/><line x1="387" y1="70.1" x2="389.2" y2="70.1" stroke="#000" stroke-width="1.2"/><line x1="387" y1="66.1" x2="389.2" y2="66.1" stroke="#000" stroke-width="1.2"/><line x1="387" y1="62.8" x2="389.2" y2="62.8" stroke="#000" stroke-width="1.2"/><line x1="387" y1="60" x2="389.2" y2="60" stroke="#000" stroke-width="1.2"/><line x1="387" y1="57.6" x2="389.2" y2="57.6" stroke="#000" stroke-width="1.2"/><line x1="387" y1="55.5" x2="389.2" y2="55.5" stroke="#000" stroke-width="1.2"/><line x1="387" y1="53.6" x2="390.8" y2="53.6" stroke="#000" stroke-width="1.4"/><line x1="387" y1="41.1" x2="389.2" y2="41.1" stroke="#000" stroke-width="1.2"/><line x1="387" y1="33.8" x2="389.2" y2="33.8" stroke="#000" stroke-width="1.2"/><line x1="387" y1="28.6" x2="389.2" y2="28.6" stroke="#000" stroke-width="1.2"/><text x="383" y="225" font-size="13.5" text-anchor="end" >10<tspan font-size="9.2" dy="-5.7">2</tspan></text><text x="383" y="183.5" font-size="13.5" text-anchor="end" >10<tspan font-size="9.2" dy="-5.7">3</tspan></text><text x="383" y="142" font-size="13.5" text-anchor="end" >10<tspan font-size="9.2" dy="-5.7">4</tspan></text><text x="383" y="100.5" font-size="13.5" text-anchor="end" >10<tspan font-size="9.2" dy="-5.7">5</tspan></text><text x="383" y="59" font-size="13.5" text-anchor="end" >10<tspan font-size="9.2" dy="-5.7">6</tspan></text><line x1="644.5" y1="231.7" x2="640.7" y2="231.7" stroke="#000" stroke-width="1.4"/><text x="648.5" y="236.4" font-size="13.5" text-anchor="start" >0</text><line x1="644.5" y1="208.8" x2="642.3" y2="208.8" stroke="#000" stroke-width="1.4"/><line x1="644.5" y1="185.8" x2="640.7" y2="185.8" stroke="#000" stroke-width="1.4"/><text x="648.5" y="190.5" font-size="13.5" text-anchor="start" >20</text><line x1="644.5" y1="162.8" x2="642.3" y2="162.8" stroke="#000" stroke-width="1.4"/><line x1="644.5" y1="139.9" x2="640.7" y2="139.9" stroke="#000" stroke-width="1.4"/><text x="648.5" y="144.6" font-size="13.5" text-anchor="start" >40</text><line x1="644.5" y1="116.9" x2="642.3" y2="116.9" stroke="#000" stroke-width="1.4"/><line x1="644.5" y1="94" x2="640.7" y2="94" stroke="#000" stroke-width="1.4"/><text x="648.5" y="98.7" font-size="13.5" text-anchor="start" >60</text><line x1="644.5" y1="71" x2="642.3" y2="71" stroke="#000" stroke-width="1.4"/><line x1="644.5" y1="48.1" x2="640.7" y2="48.1" stroke="#000" stroke-width="1.4"/><text x="648.5" y="52.8" font-size="13.5" text-anchor="start" >80</text><line x1="644.5" y1="25.2" x2="642.3" y2="25.2" stroke="#000" stroke-width="1.4"/><text x="515.5" y="274" font-size="17.7" text-anchor="middle" >Frequency(Hz)</text><text transform="translate(358.4,128.5) rotate(-90)" font-size="17.7" text-anchor="middle">|Z|(Ω·cm<tspan font-size="11.5" dy="-6.5">2</tspan><tspan dy="6.5">)</tspan></text><text transform="translate(682,125.3) rotate(-90)" font-size="17.7" text-anchor="middle">-Phase(degree)</text><rect x="569" y="35.6" width="4" height="4" fill="#ef3b3f"/><circle cx="571" cy="52.2" r="2.4" fill="#1f66e5"/><polygon points="571,63.4 568.3,68.2 573.7,68.2" fill="#35a862"/><line x1="557.1" y1="81.4" x2="583.3" y2="81.4" stroke="#000" stroke-width="1.6"/><text x="587.1" y="41.5" font-size="10.8" text-anchor="start" >Cr</text><text x="587.1" y="56.1" font-size="10.8" text-anchor="start" >Cr(8.3O)</text><text x="587.1" y="70.2" font-size="10.8" text-anchor="start" >Substrate</text><text x="586.6" y="85.3" font-size="10.8" text-anchor="start" >Fitting</text></svg></body></html>
